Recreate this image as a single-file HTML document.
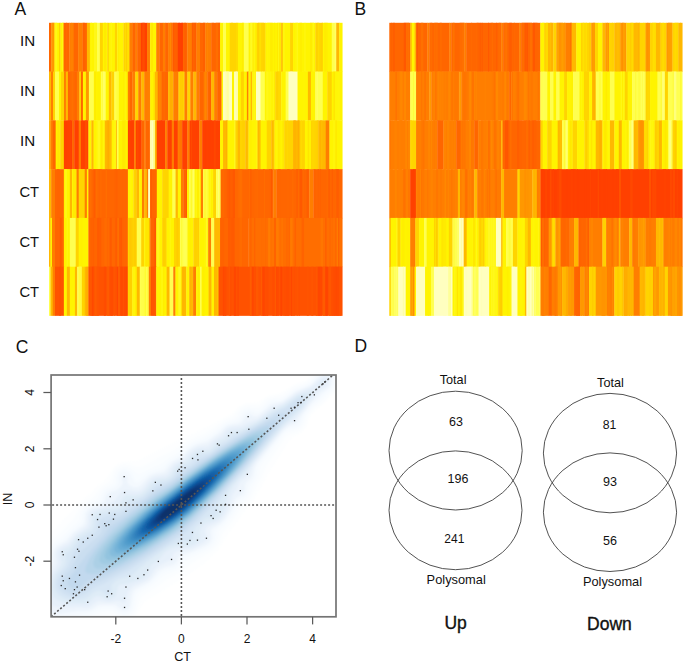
<!DOCTYPE html>
<html><head><meta charset="utf-8"><title>Figure</title>
<style>html,body{margin:0;padding:0;background:#fff;} svg{display:block;}</style>
</head><body>
<svg width="685" height="664" viewBox="0 0 685 664">
<defs>
 <clipPath id="fclip"><rect x="51.1" y="375.0" width="284.9" height="241.79999999999995"/></clipPath>
 <filter id="dblur" x="-10%" y="-10%" width="120%" height="120%"><feGaussianBlur stdDeviation="0.8"/></filter>
</defs>
<rect width="685" height="664" fill="#fff"/>
<g>
<rect x="49.00" y="22.80" width="2.64" height="49.13" fill="#ff6600"/>
<rect x="51.29" y="22.80" width="3.44" height="49.13" fill="#ff9800"/>
<rect x="52.00" y="22.80" width="1.00" height="49.13" fill="#ff9800"/>
<rect x="53.00" y="22.80" width="1.39" height="49.13" fill="#ff9500"/>
<rect x="54.39" y="22.80" width="4.94" height="49.13" fill="#fff400"/>
<rect x="55.20" y="22.80" width="2.00" height="49.13" fill="#fff718"/>
<rect x="58.97" y="22.80" width="1.85" height="49.13" fill="#ffd400"/>
<rect x="60.47" y="22.80" width="3.44" height="49.13" fill="#fff400"/>
<rect x="62.12" y="22.80" width="1.44" height="49.13" fill="#fff716"/>
<rect x="63.56" y="22.80" width="6.13" height="49.13" fill="#ff6600"/>
<rect x="65.95" y="22.80" width="1.00" height="49.13" fill="#ff6a00"/>
<rect x="69.34" y="22.80" width="4.74" height="49.13" fill="#ff7e00"/>
<rect x="71.30" y="22.80" width="1.00" height="49.13" fill="#ff8400"/>
<rect x="73.73" y="22.80" width="4.74" height="49.13" fill="#ff6600"/>
<rect x="78.12" y="22.80" width="4.74" height="49.13" fill="#ff7e00"/>
<rect x="82.51" y="22.80" width="4.74" height="49.13" fill="#ff6600"/>
<rect x="83.16" y="22.80" width="1.50" height="49.13" fill="#ff6100"/>
<rect x="86.90" y="22.80" width="3.34" height="49.13" fill="#ffb800"/>
<rect x="89.89" y="22.80" width="7.33" height="49.13" fill="#fff400"/>
<rect x="91.02" y="22.80" width="1.00" height="49.13" fill="#fff506"/>
<rect x="94.02" y="22.80" width="2.50" height="49.13" fill="#fff719"/>
<rect x="96.87" y="22.80" width="3.34" height="49.13" fill="#ffff50"/>
<rect x="99.86" y="22.80" width="3.34" height="49.13" fill="#ffd400"/>
<rect x="102.85" y="22.80" width="4.74" height="49.13" fill="#fff400"/>
<rect x="104.07" y="22.80" width="2.00" height="49.13" fill="#ffeb00"/>
<rect x="107.24" y="22.80" width="1.95" height="49.13" fill="#ffd400"/>
<rect x="108.84" y="22.80" width="6.43" height="49.13" fill="#fff400"/>
<rect x="110.50" y="22.80" width="1.50" height="49.13" fill="#fff60c"/>
<rect x="114.92" y="22.80" width="2.64" height="49.13" fill="#ffd400"/>
<rect x="117.21" y="22.80" width="6.53" height="49.13" fill="#fff400"/>
<rect x="118.27" y="22.80" width="1.00" height="49.13" fill="#ffee00"/>
<rect x="123.40" y="22.80" width="6.43" height="49.13" fill="#ffd400"/>
<rect x="125.15" y="22.80" width="1.00" height="49.13" fill="#ffde00"/>
<rect x="126.15" y="22.80" width="1.00" height="49.13" fill="#ffd000"/>
<rect x="127.15" y="22.80" width="2.33" height="49.13" fill="#ffe000"/>
<rect x="129.48" y="22.80" width="3.44" height="49.13" fill="#ff7e00"/>
<rect x="132.57" y="22.80" width="3.34" height="49.13" fill="#ff6600"/>
<rect x="135.56" y="22.80" width="1.95" height="49.13" fill="#ff7e00"/>
<rect x="137.16" y="22.80" width="4.14" height="49.13" fill="#ff6600"/>
<rect x="140.95" y="22.80" width="6.43" height="49.13" fill="#ff4000"/>
<rect x="142.23" y="22.80" width="2.50" height="49.13" fill="#ff4c00"/>
<rect x="147.03" y="22.80" width="3.44" height="49.13" fill="#ff7e00"/>
<rect x="150.12" y="22.80" width="6.43" height="49.13" fill="#fff400"/>
<rect x="151.24" y="22.80" width="1.50" height="49.13" fill="#ffe600"/>
<rect x="156.21" y="22.80" width="3.44" height="49.13" fill="#ff7e00"/>
<rect x="159.30" y="22.80" width="3.94" height="49.13" fill="#ff6600"/>
<rect x="162.89" y="22.80" width="2.54" height="49.13" fill="#ff7e00"/>
<rect x="165.08" y="22.80" width="3.34" height="49.13" fill="#ff6600"/>
<rect x="168.08" y="22.80" width="4.74" height="49.13" fill="#ff7e00"/>
<rect x="169.85" y="22.80" width="1.50" height="49.13" fill="#ff8800"/>
<rect x="171.35" y="22.80" width="1.00" height="49.13" fill="#ff7000"/>
<rect x="172.46" y="22.80" width="5.54" height="49.13" fill="#ff6600"/>
<rect x="172.98" y="22.80" width="1.50" height="49.13" fill="#ff5a00"/>
<rect x="174.48" y="22.80" width="2.50" height="49.13" fill="#ff6000"/>
<rect x="177.65" y="22.80" width="5.64" height="49.13" fill="#ff4000"/>
<rect x="178.40" y="22.80" width="1.50" height="49.13" fill="#ff4000"/>
<rect x="181.40" y="22.80" width="1.50" height="49.13" fill="#ff4000"/>
<rect x="182.93" y="22.80" width="4.74" height="49.13" fill="#ff6600"/>
<rect x="184.15" y="22.80" width="1.00" height="49.13" fill="#ff6100"/>
<rect x="185.15" y="22.80" width="1.00" height="49.13" fill="#ff5f00"/>
<rect x="187.32" y="22.80" width="4.84" height="49.13" fill="#ff7e00"/>
<rect x="191.81" y="22.80" width="4.84" height="49.13" fill="#ff6600"/>
<rect x="192.34" y="22.80" width="1.00" height="49.13" fill="#ff5800"/>
<rect x="193.34" y="22.80" width="1.00" height="49.13" fill="#ff6600"/>
<rect x="194.34" y="22.80" width="1.96" height="49.13" fill="#ff5e00"/>
<rect x="196.30" y="22.80" width="4.04" height="49.13" fill="#ff7e00"/>
<rect x="198.26" y="22.80" width="1.73" height="49.13" fill="#ff7f00"/>
<rect x="199.99" y="22.80" width="5.54" height="49.13" fill="#ff6600"/>
<rect x="203.03" y="22.80" width="2.00" height="49.13" fill="#ff6000"/>
<rect x="205.17" y="22.80" width="6.33" height="49.13" fill="#ff7e00"/>
<rect x="207.13" y="22.80" width="1.00" height="49.13" fill="#ff8600"/>
<rect x="211.16" y="22.80" width="9.23" height="49.13" fill="#ff6600"/>
<rect x="212.28" y="22.80" width="1.50" height="49.13" fill="#ff6700"/>
<rect x="215.78" y="22.80" width="2.50" height="49.13" fill="#ff6e00"/>
<rect x="218.28" y="22.80" width="1.75" height="49.13" fill="#ff6200"/>
<rect x="220.03" y="22.80" width="3.34" height="49.13" fill="#fff400"/>
<rect x="223.03" y="22.80" width="3.34" height="49.13" fill="#ffff50"/>
<rect x="226.02" y="22.80" width="4.04" height="49.13" fill="#fff400"/>
<rect x="229.71" y="22.80" width="8.53" height="49.13" fill="#ffd400"/>
<rect x="230.95" y="22.80" width="2.00" height="49.13" fill="#ffd400"/>
<rect x="236.45" y="22.80" width="1.00" height="49.13" fill="#ffde00"/>
<rect x="237.88" y="22.80" width="6.33" height="49.13" fill="#fff400"/>
<rect x="242.10" y="22.80" width="1.50" height="49.13" fill="#ffed00"/>
<rect x="243.87" y="22.80" width="4.94" height="49.13" fill="#ffff50"/>
<rect x="248.46" y="22.80" width="8.53" height="49.13" fill="#fff400"/>
<rect x="250.21" y="22.80" width="2.50" height="49.13" fill="#fff923"/>
<rect x="252.71" y="22.80" width="1.00" height="49.13" fill="#ffe700"/>
<rect x="253.71" y="22.80" width="1.00" height="49.13" fill="#fff81e"/>
<rect x="254.71" y="22.80" width="1.00" height="49.13" fill="#ffef00"/>
<rect x="256.63" y="22.80" width="9.23" height="49.13" fill="#ffd400"/>
<rect x="257.89" y="22.80" width="1.50" height="49.13" fill="#ffd000"/>
<rect x="259.39" y="22.80" width="1.50" height="49.13" fill="#ffe100"/>
<rect x="260.89" y="22.80" width="2.00" height="49.13" fill="#ffd500"/>
<rect x="262.89" y="22.80" width="1.00" height="49.13" fill="#ffd200"/>
<rect x="265.51" y="22.80" width="16.01" height="49.13" fill="#fff400"/>
<rect x="267.19" y="22.80" width="1.00" height="49.13" fill="#fff508"/>
<rect x="268.19" y="22.80" width="2.00" height="49.13" fill="#fff404"/>
<rect x="270.19" y="22.80" width="2.50" height="49.13" fill="#ffed00"/>
<rect x="274.19" y="22.80" width="1.00" height="49.13" fill="#ffee00"/>
<rect x="277.19" y="22.80" width="1.00" height="49.13" fill="#ffe900"/>
<rect x="278.19" y="22.80" width="1.00" height="49.13" fill="#fff715"/>
<rect x="279.19" y="22.80" width="1.98" height="49.13" fill="#ffe900"/>
<rect x="281.17" y="22.80" width="1.85" height="49.13" fill="#ffb800"/>
<rect x="282.66" y="22.80" width="7.73" height="49.13" fill="#fff400"/>
<rect x="283.41" y="22.80" width="1.00" height="49.13" fill="#fff719"/>
<rect x="290.04" y="22.80" width="3.34" height="49.13" fill="#ffd400"/>
<rect x="293.03" y="22.80" width="22.59" height="49.13" fill="#fff400"/>
<rect x="295.48" y="22.80" width="1.50" height="49.13" fill="#fff60b"/>
<rect x="296.98" y="22.80" width="1.00" height="49.13" fill="#fff715"/>
<rect x="299.48" y="22.80" width="1.50" height="49.13" fill="#ffef00"/>
<rect x="300.98" y="22.80" width="1.00" height="49.13" fill="#ffef00"/>
<rect x="304.48" y="22.80" width="1.00" height="49.13" fill="#fff715"/>
<rect x="309.98" y="22.80" width="1.50" height="49.13" fill="#ffec00"/>
<rect x="311.48" y="22.80" width="1.00" height="49.13" fill="#ffe800"/>
<rect x="312.48" y="22.80" width="1.50" height="49.13" fill="#fff712"/>
<rect x="315.27" y="22.80" width="7.83" height="49.13" fill="#ffd400"/>
<rect x="316.74" y="22.80" width="1.00" height="49.13" fill="#ffcf00"/>
<rect x="317.74" y="22.80" width="1.50" height="49.13" fill="#ffdc00"/>
<rect x="321.74" y="22.80" width="1.01" height="49.13" fill="#ffca00"/>
<rect x="322.75" y="22.80" width="9.33" height="49.13" fill="#fff400"/>
<rect x="324.17" y="22.80" width="2.50" height="49.13" fill="#ffec00"/>
<rect x="326.67" y="22.80" width="1.00" height="49.13" fill="#ffed00"/>
<rect x="331.73" y="22.80" width="4.84" height="49.13" fill="#ffff50"/>
<rect x="334.77" y="22.80" width="1.00" height="49.13" fill="#ffff6c"/>
<rect x="336.22" y="22.80" width="3.34" height="49.13" fill="#ffb800"/>
<rect x="339.21" y="22.80" width="3.34" height="49.13" fill="#fff400"/>
<rect x="49.00" y="71.58" width="2.34" height="49.13" fill="#ffb800"/>
<rect x="50.99" y="71.58" width="2.34" height="49.13" fill="#ff7e00"/>
<rect x="52.99" y="71.58" width="2.34" height="49.13" fill="#ffd400"/>
<rect x="54.98" y="71.58" width="4.34" height="49.13" fill="#ffff50"/>
<rect x="58.97" y="71.58" width="2.34" height="49.13" fill="#fff400"/>
<rect x="60.97" y="71.58" width="3.34" height="49.13" fill="#ffd400"/>
<rect x="63.96" y="71.58" width="2.34" height="49.13" fill="#ff7e00"/>
<rect x="65.95" y="71.58" width="2.34" height="49.13" fill="#ffb800"/>
<rect x="67.95" y="71.58" width="9.33" height="49.13" fill="#ff6600"/>
<rect x="69.71" y="71.58" width="1.50" height="49.13" fill="#ff6b00"/>
<rect x="71.21" y="71.58" width="2.50" height="49.13" fill="#ff7000"/>
<rect x="73.71" y="71.58" width="1.00" height="49.13" fill="#ff6b00"/>
<rect x="76.92" y="71.58" width="2.84" height="49.13" fill="#ff7e00"/>
<rect x="79.42" y="71.58" width="1.85" height="49.13" fill="#ffd400"/>
<rect x="80.91" y="71.58" width="2.34" height="49.13" fill="#ff6600"/>
<rect x="82.91" y="71.58" width="3.34" height="49.13" fill="#fff400"/>
<rect x="85.90" y="71.58" width="3.34" height="49.13" fill="#ff9800"/>
<rect x="88.89" y="71.58" width="5.34" height="49.13" fill="#ffff50"/>
<rect x="92.83" y="71.58" width="1.00" height="49.13" fill="#fffe4b"/>
<rect x="93.88" y="71.58" width="7.33" height="49.13" fill="#fff400"/>
<rect x="94.61" y="71.58" width="1.00" height="49.13" fill="#ffe700"/>
<rect x="97.61" y="71.58" width="2.50" height="49.13" fill="#fff200"/>
<rect x="100.86" y="71.58" width="5.34" height="49.13" fill="#ffff50"/>
<rect x="102.17" y="71.58" width="1.00" height="49.13" fill="#fffd44"/>
<rect x="103.17" y="71.58" width="1.50" height="49.13" fill="#ffff6e"/>
<rect x="105.84" y="71.58" width="3.34" height="49.13" fill="#fff400"/>
<rect x="108.84" y="71.58" width="2.84" height="49.13" fill="#ffb800"/>
<rect x="111.33" y="71.58" width="3.34" height="49.13" fill="#ffd400"/>
<rect x="114.32" y="71.58" width="4.84" height="49.13" fill="#ffff50"/>
<rect x="116.35" y="71.58" width="2.46" height="49.13" fill="#fffd3f"/>
<rect x="118.81" y="71.58" width="9.33" height="49.13" fill="#fff400"/>
<rect x="123.55" y="71.58" width="1.00" height="49.13" fill="#ffeb00"/>
<rect x="124.55" y="71.58" width="1.50" height="49.13" fill="#fff50b"/>
<rect x="127.79" y="71.58" width="2.34" height="49.13" fill="#ff7e00"/>
<rect x="129.78" y="71.58" width="2.84" height="49.13" fill="#ff6600"/>
<rect x="132.27" y="71.58" width="3.34" height="49.13" fill="#ff7e00"/>
<rect x="135.26" y="71.58" width="3.34" height="49.13" fill="#ffd400"/>
<rect x="138.26" y="71.58" width="3.34" height="49.13" fill="#ff7e00"/>
<rect x="141.25" y="71.58" width="3.34" height="49.13" fill="#ffb800"/>
<rect x="144.24" y="71.58" width="6.23" height="49.13" fill="#ff7e00"/>
<rect x="145.70" y="71.58" width="1.00" height="49.13" fill="#ff7e00"/>
<rect x="148.70" y="71.58" width="1.43" height="49.13" fill="#ff8100"/>
<rect x="150.12" y="71.58" width="4.94" height="49.13" fill="#fff400"/>
<rect x="153.22" y="71.58" width="1.00" height="49.13" fill="#ffe800"/>
<rect x="154.71" y="71.58" width="3.34" height="49.13" fill="#ffb800"/>
<rect x="157.70" y="71.58" width="4.24" height="49.13" fill="#ff7e00"/>
<rect x="158.97" y="71.58" width="1.50" height="49.13" fill="#ff8400"/>
<rect x="160.47" y="71.58" width="1.00" height="49.13" fill="#ff8300"/>
<rect x="161.59" y="71.58" width="6.83" height="49.13" fill="#ff6600"/>
<rect x="163.37" y="71.58" width="1.50" height="49.13" fill="#ff6b00"/>
<rect x="168.08" y="71.58" width="5.54" height="49.13" fill="#ffb800"/>
<rect x="170.02" y="71.58" width="2.50" height="49.13" fill="#ffae00"/>
<rect x="173.26" y="71.58" width="5.54" height="49.13" fill="#ff7e00"/>
<rect x="176.90" y="71.58" width="1.00" height="49.13" fill="#ff7b00"/>
<rect x="178.45" y="71.58" width="6.33" height="49.13" fill="#ffd400"/>
<rect x="179.90" y="71.58" width="2.00" height="49.13" fill="#ffcc00"/>
<rect x="181.90" y="71.58" width="1.00" height="49.13" fill="#ffca00"/>
<rect x="184.43" y="71.58" width="3.24" height="49.13" fill="#ff7e00"/>
<rect x="187.32" y="71.58" width="3.34" height="49.13" fill="#ffd400"/>
<rect x="190.31" y="71.58" width="3.34" height="49.13" fill="#ff7e00"/>
<rect x="193.31" y="71.58" width="3.34" height="49.13" fill="#ffb800"/>
<rect x="196.30" y="71.58" width="3.34" height="49.13" fill="#ff7e00"/>
<rect x="199.29" y="71.58" width="4.74" height="49.13" fill="#ff6600"/>
<rect x="203.68" y="71.58" width="4.14" height="49.13" fill="#ff7e00"/>
<rect x="205.17" y="71.58" width="1.00" height="49.13" fill="#ff8800"/>
<rect x="207.47" y="71.58" width="4.04" height="49.13" fill="#ff6600"/>
<rect x="209.32" y="71.58" width="1.83" height="49.13" fill="#ff6100"/>
<rect x="211.16" y="71.58" width="3.34" height="49.13" fill="#ffb800"/>
<rect x="214.15" y="71.58" width="3.34" height="49.13" fill="#ff7e00"/>
<rect x="217.14" y="71.58" width="4.74" height="49.13" fill="#ff6600"/>
<rect x="219.83" y="71.58" width="1.00" height="49.13" fill="#ff6700"/>
<rect x="221.53" y="71.58" width="1.85" height="49.13" fill="#fff400"/>
<rect x="223.03" y="71.58" width="9.33" height="49.13" fill="#ffffc0"/>
<rect x="224.89" y="71.58" width="1.50" height="49.13" fill="#ffffb4"/>
<rect x="226.39" y="71.58" width="2.50" height="49.13" fill="#ffffa1"/>
<rect x="232.00" y="71.58" width="2.54" height="49.13" fill="#fff400"/>
<rect x="234.19" y="71.58" width="4.04" height="49.13" fill="#ffffc0"/>
<rect x="235.60" y="71.58" width="1.50" height="49.13" fill="#ffffaa"/>
<rect x="237.88" y="71.58" width="3.34" height="49.13" fill="#fff400"/>
<rect x="240.88" y="71.58" width="3.34" height="49.13" fill="#ffd400"/>
<rect x="243.87" y="71.58" width="3.34" height="49.13" fill="#fff400"/>
<rect x="246.86" y="71.58" width="1.95" height="49.13" fill="#ff7e00"/>
<rect x="248.46" y="71.58" width="2.54" height="49.13" fill="#fff400"/>
<rect x="250.65" y="71.58" width="1.85" height="49.13" fill="#ffb800"/>
<rect x="252.15" y="71.58" width="4.14" height="49.13" fill="#fff400"/>
<rect x="253.46" y="71.58" width="1.50" height="49.13" fill="#fff713"/>
<rect x="255.94" y="71.58" width="4.84" height="49.13" fill="#ffffc0"/>
<rect x="260.42" y="71.58" width="4.74" height="49.13" fill="#ffff50"/>
<rect x="262.14" y="71.58" width="1.00" height="49.13" fill="#ffff4f"/>
<rect x="264.81" y="71.58" width="10.72" height="49.13" fill="#fff400"/>
<rect x="266.17" y="71.58" width="2.00" height="49.13" fill="#fff716"/>
<rect x="268.17" y="71.58" width="1.00" height="49.13" fill="#fff612"/>
<rect x="269.17" y="71.58" width="2.50" height="49.13" fill="#fff60d"/>
<rect x="271.67" y="71.58" width="1.00" height="49.13" fill="#fff000"/>
<rect x="272.67" y="71.58" width="1.50" height="49.13" fill="#fff60d"/>
<rect x="274.17" y="71.58" width="1.02" height="49.13" fill="#ffe900"/>
<rect x="275.18" y="71.58" width="6.33" height="49.13" fill="#ffd400"/>
<rect x="276.76" y="71.58" width="1.50" height="49.13" fill="#ffd100"/>
<rect x="278.26" y="71.58" width="2.50" height="49.13" fill="#ffd800"/>
<rect x="281.17" y="71.58" width="4.84" height="49.13" fill="#fff400"/>
<rect x="285.65" y="71.58" width="3.24" height="49.13" fill="#ffff50"/>
<rect x="288.55" y="71.58" width="9.33" height="49.13" fill="#ffffc0"/>
<rect x="290.13" y="71.58" width="2.50" height="49.13" fill="#ffffc0"/>
<rect x="297.52" y="71.58" width="10.72" height="49.13" fill="#fff400"/>
<rect x="302.59" y="71.58" width="2.50" height="49.13" fill="#fff402"/>
<rect x="307.89" y="71.58" width="3.34" height="49.13" fill="#ffb800"/>
<rect x="310.89" y="71.58" width="4.74" height="49.13" fill="#fff400"/>
<rect x="315.27" y="71.58" width="7.83" height="49.13" fill="#ffff50"/>
<rect x="316.65" y="71.58" width="1.00" height="49.13" fill="#ffff69"/>
<rect x="322.75" y="71.58" width="4.84" height="49.13" fill="#fff400"/>
<rect x="327.24" y="71.58" width="4.84" height="49.13" fill="#ffd400"/>
<rect x="331.73" y="71.58" width="10.82" height="49.13" fill="#fff400"/>
<rect x="333.04" y="71.58" width="1.00" height="49.13" fill="#ffed00"/>
<rect x="334.04" y="71.58" width="1.00" height="49.13" fill="#ffe700"/>
<rect x="335.04" y="71.58" width="2.50" height="49.13" fill="#fff507"/>
<rect x="337.54" y="71.58" width="1.00" height="49.13" fill="#fff60b"/>
<rect x="338.54" y="71.58" width="1.00" height="49.13" fill="#fff60f"/>
<rect x="49.00" y="120.37" width="1.85" height="49.13" fill="#ffb800"/>
<rect x="50.50" y="120.37" width="2.54" height="49.13" fill="#ff7e00"/>
<rect x="52.69" y="120.37" width="3.34" height="49.13" fill="#ff6600"/>
<rect x="55.68" y="120.37" width="4.84" height="49.13" fill="#fff400"/>
<rect x="56.60" y="120.37" width="1.50" height="49.13" fill="#ffec00"/>
<rect x="58.10" y="120.37" width="1.50" height="49.13" fill="#ffe800"/>
<rect x="60.17" y="120.37" width="4.04" height="49.13" fill="#ffd400"/>
<rect x="63.86" y="120.37" width="8.53" height="49.13" fill="#ff4000"/>
<rect x="67.56" y="120.37" width="1.00" height="49.13" fill="#ff4600"/>
<rect x="68.56" y="120.37" width="2.50" height="49.13" fill="#ff4300"/>
<rect x="72.04" y="120.37" width="2.54" height="49.13" fill="#ff6600"/>
<rect x="74.23" y="120.37" width="4.84" height="49.13" fill="#ff4000"/>
<rect x="75.08" y="120.37" width="2.50" height="49.13" fill="#ff4000"/>
<rect x="78.72" y="120.37" width="2.54" height="49.13" fill="#ff7e00"/>
<rect x="80.91" y="120.37" width="7.83" height="49.13" fill="#ff4000"/>
<rect x="81.91" y="120.37" width="1.00" height="49.13" fill="#ff4300"/>
<rect x="84.91" y="120.37" width="2.50" height="49.13" fill="#ff4c00"/>
<rect x="88.39" y="120.37" width="3.34" height="49.13" fill="#fff400"/>
<rect x="91.38" y="120.37" width="2.54" height="49.13" fill="#ffb800"/>
<rect x="93.58" y="120.37" width="11.52" height="49.13" fill="#fff400"/>
<rect x="96.48" y="120.37" width="1.00" height="49.13" fill="#fff611"/>
<rect x="97.48" y="120.37" width="2.50" height="49.13" fill="#fff81e"/>
<rect x="100.98" y="120.37" width="1.50" height="49.13" fill="#ffea00"/>
<rect x="103.48" y="120.37" width="1.27" height="49.13" fill="#fff612"/>
<rect x="104.75" y="120.37" width="7.23" height="49.13" fill="#ffb800"/>
<rect x="106.61" y="120.37" width="1.50" height="49.13" fill="#ffb000"/>
<rect x="108.11" y="120.37" width="1.50" height="49.13" fill="#ffac00"/>
<rect x="109.61" y="120.37" width="1.00" height="49.13" fill="#ffc000"/>
<rect x="111.63" y="120.37" width="4.84" height="49.13" fill="#fff400"/>
<rect x="112.45" y="120.37" width="1.00" height="49.13" fill="#fff402"/>
<rect x="113.45" y="120.37" width="2.50" height="49.13" fill="#fff60c"/>
<rect x="116.12" y="120.37" width="1.25" height="49.13" fill="#ffb800"/>
<rect x="117.01" y="120.37" width="1.75" height="49.13" fill="#ffff50"/>
<rect x="118.41" y="120.37" width="9.82" height="49.13" fill="#fff400"/>
<rect x="121.82" y="120.37" width="1.00" height="49.13" fill="#ffec00"/>
<rect x="122.82" y="120.37" width="2.00" height="49.13" fill="#ffea00"/>
<rect x="124.82" y="120.37" width="1.00" height="49.13" fill="#ffee00"/>
<rect x="127.88" y="120.37" width="6.63" height="49.13" fill="#ff4000"/>
<rect x="128.70" y="120.37" width="1.50" height="49.13" fill="#ff4300"/>
<rect x="131.20" y="120.37" width="1.00" height="49.13" fill="#ff4000"/>
<rect x="132.20" y="120.37" width="1.96" height="49.13" fill="#ff4000"/>
<rect x="134.17" y="120.37" width="2.15" height="49.13" fill="#ff7e00"/>
<rect x="135.96" y="120.37" width="5.74" height="49.13" fill="#ff4000"/>
<rect x="137.33" y="120.37" width="1.00" height="49.13" fill="#ff4a00"/>
<rect x="139.33" y="120.37" width="1.00" height="49.13" fill="#ff4000"/>
<rect x="140.33" y="120.37" width="1.01" height="49.13" fill="#ff4000"/>
<rect x="141.35" y="120.37" width="3.14" height="49.13" fill="#ff6600"/>
<rect x="144.14" y="120.37" width="1.65" height="49.13" fill="#ff7e00"/>
<rect x="145.44" y="120.37" width="4.84" height="49.13" fill="#ff6600"/>
<rect x="149.92" y="120.37" width="5.34" height="49.13" fill="#ffffc0"/>
<rect x="150.48" y="120.37" width="1.00" height="49.13" fill="#ffff9b"/>
<rect x="152.98" y="120.37" width="1.93" height="49.13" fill="#ffff90"/>
<rect x="154.91" y="120.37" width="2.15" height="49.13" fill="#ffb800"/>
<rect x="156.71" y="120.37" width="8.73" height="49.13" fill="#ff4000"/>
<rect x="160.66" y="120.37" width="2.00" height="49.13" fill="#ff4000"/>
<rect x="165.08" y="120.37" width="2.54" height="49.13" fill="#ff7e00"/>
<rect x="167.28" y="120.37" width="4.84" height="49.13" fill="#ff4000"/>
<rect x="169.14" y="120.37" width="2.50" height="49.13" fill="#ff4000"/>
<rect x="171.77" y="120.37" width="2.54" height="49.13" fill="#ff7e00"/>
<rect x="173.96" y="120.37" width="4.04" height="49.13" fill="#ff4000"/>
<rect x="177.65" y="120.37" width="4.84" height="49.13" fill="#ff7e00"/>
<rect x="179.51" y="120.37" width="2.50" height="49.13" fill="#ff7500"/>
<rect x="182.14" y="120.37" width="5.54" height="49.13" fill="#ff4000"/>
<rect x="187.32" y="120.37" width="2.64" height="49.13" fill="#ff7e00"/>
<rect x="189.62" y="120.37" width="10.02" height="49.13" fill="#ff4000"/>
<rect x="191.23" y="120.37" width="1.00" height="49.13" fill="#ff4d00"/>
<rect x="192.23" y="120.37" width="1.00" height="49.13" fill="#ff4000"/>
<rect x="196.23" y="120.37" width="2.50" height="49.13" fill="#ff4000"/>
<rect x="199.29" y="120.37" width="3.24" height="49.13" fill="#ff7e00"/>
<rect x="202.18" y="120.37" width="18.20" height="49.13" fill="#ff4000"/>
<rect x="204.16" y="120.37" width="1.00" height="49.13" fill="#ff4000"/>
<rect x="206.16" y="120.37" width="2.00" height="49.13" fill="#ff4100"/>
<rect x="208.16" y="120.37" width="1.00" height="49.13" fill="#ff4000"/>
<rect x="209.16" y="120.37" width="1.50" height="49.13" fill="#ff4000"/>
<rect x="210.66" y="120.37" width="1.50" height="49.13" fill="#ff4000"/>
<rect x="214.16" y="120.37" width="1.50" height="49.13" fill="#ff4900"/>
<rect x="220.03" y="120.37" width="3.34" height="49.13" fill="#fff400"/>
<rect x="223.03" y="120.37" width="4.84" height="49.13" fill="#ffb800"/>
<rect x="226.29" y="120.37" width="1.22" height="49.13" fill="#ffad00"/>
<rect x="227.51" y="120.37" width="8.23" height="49.13" fill="#fff400"/>
<rect x="234.23" y="120.37" width="1.16" height="49.13" fill="#fff923"/>
<rect x="235.39" y="120.37" width="2.64" height="49.13" fill="#ffd400"/>
<rect x="237.69" y="120.37" width="2.64" height="49.13" fill="#ffb800"/>
<rect x="239.98" y="120.37" width="5.74" height="49.13" fill="#ffd400"/>
<rect x="241.97" y="120.37" width="1.00" height="49.13" fill="#ffd100"/>
<rect x="242.97" y="120.37" width="1.50" height="49.13" fill="#ffd000"/>
<rect x="245.36" y="120.37" width="3.44" height="49.13" fill="#ffb800"/>
<rect x="246.73" y="120.37" width="1.00" height="49.13" fill="#ffc000"/>
<rect x="248.46" y="120.37" width="9.43" height="49.13" fill="#fff400"/>
<rect x="249.76" y="120.37" width="2.00" height="49.13" fill="#fff000"/>
<rect x="253.26" y="120.37" width="2.50" height="49.13" fill="#fff402"/>
<rect x="255.76" y="120.37" width="1.00" height="49.13" fill="#fff610"/>
<rect x="257.53" y="120.37" width="3.44" height="49.13" fill="#ffb800"/>
<rect x="259.21" y="120.37" width="1.41" height="49.13" fill="#ffc400"/>
<rect x="260.62" y="120.37" width="6.43" height="49.13" fill="#fff400"/>
<rect x="266.71" y="120.37" width="4.94" height="49.13" fill="#ffd400"/>
<rect x="268.41" y="120.37" width="1.00" height="49.13" fill="#ffd400"/>
<rect x="271.29" y="120.37" width="3.44" height="49.13" fill="#ffb800"/>
<rect x="272.85" y="120.37" width="1.50" height="49.13" fill="#ffc300"/>
<rect x="274.39" y="120.37" width="10.12" height="49.13" fill="#fff400"/>
<rect x="275.85" y="120.37" width="2.00" height="49.13" fill="#fff507"/>
<rect x="277.85" y="120.37" width="1.50" height="49.13" fill="#ffea00"/>
<rect x="279.35" y="120.37" width="1.00" height="49.13" fill="#ffec00"/>
<rect x="282.35" y="120.37" width="1.81" height="49.13" fill="#ffe800"/>
<rect x="284.16" y="120.37" width="9.23" height="49.13" fill="#ffd400"/>
<rect x="286.98" y="120.37" width="1.00" height="49.13" fill="#ffd800"/>
<rect x="293.03" y="120.37" width="7.03" height="49.13" fill="#ffb800"/>
<rect x="293.79" y="120.37" width="2.00" height="49.13" fill="#ffb400"/>
<rect x="297.79" y="120.37" width="1.50" height="49.13" fill="#ffaf00"/>
<rect x="299.72" y="120.37" width="5.54" height="49.13" fill="#ffd400"/>
<rect x="300.96" y="120.37" width="1.00" height="49.13" fill="#ffd900"/>
<rect x="304.90" y="120.37" width="6.33" height="49.13" fill="#fff400"/>
<rect x="307.69" y="120.37" width="1.50" height="49.13" fill="#ffe600"/>
<rect x="310.89" y="120.37" width="7.73" height="49.13" fill="#ffd400"/>
<rect x="312.16" y="120.37" width="2.00" height="49.13" fill="#ffd700"/>
<rect x="316.66" y="120.37" width="1.61" height="49.13" fill="#ffd000"/>
<rect x="318.27" y="120.37" width="7.83" height="49.13" fill="#ffb800"/>
<rect x="320.25" y="120.37" width="1.00" height="49.13" fill="#ffb200"/>
<rect x="321.25" y="120.37" width="1.00" height="49.13" fill="#ffc000"/>
<rect x="325.74" y="120.37" width="4.04" height="49.13" fill="#ff7e00"/>
<rect x="329.43" y="120.37" width="13.12" height="49.13" fill="#fff400"/>
<rect x="331.43" y="120.37" width="1.50" height="49.13" fill="#fff403"/>
<rect x="332.93" y="120.37" width="2.50" height="49.13" fill="#fff509"/>
<rect x="335.43" y="120.37" width="1.50" height="49.13" fill="#ffe900"/>
<rect x="49.00" y="169.15" width="2.54" height="49.13" fill="#ffb800"/>
<rect x="51.19" y="169.15" width="4.14" height="49.13" fill="#ff7e00"/>
<rect x="54.98" y="169.15" width="9.23" height="49.13" fill="#ff6600"/>
<rect x="56.98" y="169.15" width="2.50" height="49.13" fill="#ff6400"/>
<rect x="63.86" y="169.15" width="6.33" height="49.13" fill="#fff400"/>
<rect x="64.93" y="169.15" width="2.00" height="49.13" fill="#fff714"/>
<rect x="69.84" y="169.15" width="2.54" height="49.13" fill="#ffb800"/>
<rect x="72.04" y="169.15" width="4.84" height="49.13" fill="#fff400"/>
<rect x="73.12" y="169.15" width="1.00" height="49.13" fill="#ffea00"/>
<rect x="74.12" y="169.15" width="1.00" height="49.13" fill="#ffeb00"/>
<rect x="75.12" y="169.15" width="1.41" height="49.13" fill="#ffe900"/>
<rect x="76.52" y="169.15" width="2.54" height="49.13" fill="#ff7e00"/>
<rect x="78.72" y="169.15" width="6.33" height="49.13" fill="#ffd400"/>
<rect x="80.40" y="169.15" width="2.00" height="49.13" fill="#ffd400"/>
<rect x="84.70" y="169.15" width="2.54" height="49.13" fill="#ff7e00"/>
<rect x="86.90" y="169.15" width="1.85" height="49.13" fill="#fff400"/>
<rect x="88.39" y="169.15" width="39.84" height="49.13" fill="#ff6600"/>
<rect x="89.54" y="169.15" width="2.00" height="49.13" fill="#ff6e00"/>
<rect x="93.54" y="169.15" width="1.00" height="49.13" fill="#ff5d00"/>
<rect x="94.54" y="169.15" width="1.00" height="49.13" fill="#ff5800"/>
<rect x="95.54" y="169.15" width="1.50" height="49.13" fill="#ff6d00"/>
<rect x="97.04" y="169.15" width="1.00" height="49.13" fill="#ff6b00"/>
<rect x="98.04" y="169.15" width="1.00" height="49.13" fill="#ff6900"/>
<rect x="99.04" y="169.15" width="1.00" height="49.13" fill="#ff6700"/>
<rect x="100.04" y="169.15" width="1.50" height="49.13" fill="#ff6a00"/>
<rect x="105.54" y="169.15" width="1.50" height="49.13" fill="#ff6d00"/>
<rect x="114.54" y="169.15" width="2.00" height="49.13" fill="#ff6300"/>
<rect x="116.54" y="169.15" width="1.00" height="49.13" fill="#ff5f00"/>
<rect x="117.54" y="169.15" width="2.50" height="49.13" fill="#ff6600"/>
<rect x="122.54" y="169.15" width="2.50" height="49.13" fill="#ff6600"/>
<rect x="127.88" y="169.15" width="5.84" height="49.13" fill="#fff400"/>
<rect x="129.84" y="169.15" width="1.50" height="49.13" fill="#fff509"/>
<rect x="133.37" y="169.15" width="3.44" height="49.13" fill="#ffd400"/>
<rect x="135.13" y="169.15" width="1.00" height="49.13" fill="#ffce00"/>
<rect x="136.46" y="169.15" width="3.04" height="49.13" fill="#ffb800"/>
<rect x="139.15" y="169.15" width="3.14" height="49.13" fill="#fff400"/>
<rect x="141.95" y="169.15" width="2.54" height="49.13" fill="#ff7e00"/>
<rect x="144.14" y="169.15" width="3.04" height="49.13" fill="#ffb800"/>
<rect x="146.83" y="169.15" width="1.75" height="49.13" fill="#ff7e00"/>
<rect x="148.23" y="169.15" width="2.15" height="49.13" fill="#ffffc0"/>
<rect x="150.02" y="169.15" width="7.13" height="49.13" fill="#ff6600"/>
<rect x="150.89" y="169.15" width="1.00" height="49.13" fill="#ff5d00"/>
<rect x="154.39" y="169.15" width="1.00" height="49.13" fill="#ff6900"/>
<rect x="156.81" y="169.15" width="5.74" height="49.13" fill="#fff400"/>
<rect x="159.71" y="169.15" width="1.50" height="49.13" fill="#fff400"/>
<rect x="162.19" y="169.15" width="6.83" height="49.13" fill="#ffd400"/>
<rect x="163.59" y="169.15" width="1.00" height="49.13" fill="#ffd700"/>
<rect x="168.67" y="169.15" width="4.14" height="49.13" fill="#fff400"/>
<rect x="169.98" y="169.15" width="1.00" height="49.13" fill="#fff402"/>
<rect x="172.46" y="169.15" width="3.44" height="49.13" fill="#ffff50"/>
<rect x="174.18" y="169.15" width="1.00" height="49.13" fill="#ffff50"/>
<rect x="175.55" y="169.15" width="2.64" height="49.13" fill="#ffb800"/>
<rect x="177.85" y="169.15" width="3.44" height="49.13" fill="#fff400"/>
<rect x="179.84" y="169.15" width="1.10" height="49.13" fill="#fff50a"/>
<rect x="180.94" y="169.15" width="2.64" height="49.13" fill="#ff7e00"/>
<rect x="183.23" y="169.15" width="4.14" height="49.13" fill="#ff6600"/>
<rect x="185.98" y="169.15" width="1.00" height="49.13" fill="#ff5d00"/>
<rect x="187.02" y="169.15" width="2.64" height="49.13" fill="#fff400"/>
<rect x="189.32" y="169.15" width="5.64" height="49.13" fill="#ffff50"/>
<rect x="190.67" y="169.15" width="1.50" height="49.13" fill="#fffa2c"/>
<rect x="193.17" y="169.15" width="1.43" height="49.13" fill="#ffff68"/>
<rect x="194.60" y="169.15" width="6.53" height="49.13" fill="#fff400"/>
<rect x="195.52" y="169.15" width="1.50" height="49.13" fill="#fff610"/>
<rect x="197.02" y="169.15" width="2.00" height="49.13" fill="#ffef00"/>
<rect x="199.02" y="169.15" width="1.00" height="49.13" fill="#fff81d"/>
<rect x="200.79" y="169.15" width="2.64" height="49.13" fill="#ff7e00"/>
<rect x="203.08" y="169.15" width="5.74" height="49.13" fill="#ffff50"/>
<rect x="203.79" y="169.15" width="2.50" height="49.13" fill="#fffb32"/>
<rect x="206.29" y="169.15" width="1.00" height="49.13" fill="#fffd3e"/>
<rect x="207.29" y="169.15" width="1.17" height="49.13" fill="#fffa2e"/>
<rect x="208.46" y="169.15" width="4.94" height="49.13" fill="#fff400"/>
<rect x="209.17" y="169.15" width="2.00" height="49.13" fill="#fff610"/>
<rect x="211.17" y="169.15" width="1.00" height="49.13" fill="#ffef00"/>
<rect x="213.05" y="169.15" width="3.34" height="49.13" fill="#ffd400"/>
<rect x="216.04" y="169.15" width="4.94" height="49.13" fill="#ffff50"/>
<rect x="218.06" y="169.15" width="1.00" height="49.13" fill="#ffff6f"/>
<rect x="220.63" y="169.15" width="53.11" height="49.13" fill="#ff6600"/>
<rect x="222.44" y="169.15" width="2.00" height="49.13" fill="#ff6800"/>
<rect x="224.44" y="169.15" width="2.50" height="49.13" fill="#ff6400"/>
<rect x="226.94" y="169.15" width="2.00" height="49.13" fill="#ff5e00"/>
<rect x="228.94" y="169.15" width="1.50" height="49.13" fill="#ff5900"/>
<rect x="230.44" y="169.15" width="2.50" height="49.13" fill="#ff5e00"/>
<rect x="232.94" y="169.15" width="2.00" height="49.13" fill="#ff5800"/>
<rect x="234.94" y="169.15" width="2.50" height="49.13" fill="#ff6700"/>
<rect x="237.44" y="169.15" width="2.00" height="49.13" fill="#ff6b00"/>
<rect x="239.44" y="169.15" width="1.50" height="49.13" fill="#ff7200"/>
<rect x="240.94" y="169.15" width="1.50" height="49.13" fill="#ff6e00"/>
<rect x="247.94" y="169.15" width="1.00" height="49.13" fill="#ff6800"/>
<rect x="248.94" y="169.15" width="1.00" height="49.13" fill="#ff6d00"/>
<rect x="249.94" y="169.15" width="1.50" height="49.13" fill="#ff6000"/>
<rect x="254.44" y="169.15" width="2.00" height="49.13" fill="#ff6800"/>
<rect x="256.44" y="169.15" width="1.50" height="49.13" fill="#ff6a00"/>
<rect x="262.94" y="169.15" width="1.00" height="49.13" fill="#ff6700"/>
<rect x="263.94" y="169.15" width="1.00" height="49.13" fill="#ff6d00"/>
<rect x="268.94" y="169.15" width="2.00" height="49.13" fill="#ff6500"/>
<rect x="270.94" y="169.15" width="1.00" height="49.13" fill="#ff5800"/>
<rect x="273.39" y="169.15" width="3.34" height="49.13" fill="#ff7e00"/>
<rect x="276.38" y="169.15" width="33.26" height="49.13" fill="#ff6600"/>
<rect x="278.13" y="169.15" width="2.50" height="49.13" fill="#ff6600"/>
<rect x="287.13" y="169.15" width="2.50" height="49.13" fill="#ff6700"/>
<rect x="292.13" y="169.15" width="1.50" height="49.13" fill="#ff6b00"/>
<rect x="296.13" y="169.15" width="2.00" height="49.13" fill="#ff6000"/>
<rect x="298.13" y="169.15" width="1.50" height="49.13" fill="#ff6b00"/>
<rect x="299.63" y="169.15" width="2.50" height="49.13" fill="#ff5900"/>
<rect x="303.13" y="169.15" width="1.00" height="49.13" fill="#ff6900"/>
<rect x="306.63" y="169.15" width="1.00" height="49.13" fill="#ff5d00"/>
<rect x="307.63" y="169.15" width="1.00" height="49.13" fill="#ff5e00"/>
<rect x="309.29" y="169.15" width="4.34" height="49.13" fill="#ff7e00"/>
<rect x="313.28" y="169.15" width="29.27" height="49.13" fill="#ff6600"/>
<rect x="314.33" y="169.15" width="1.00" height="49.13" fill="#ff6300"/>
<rect x="317.83" y="169.15" width="1.00" height="49.13" fill="#ff6300"/>
<rect x="319.83" y="169.15" width="1.00" height="49.13" fill="#ff6200"/>
<rect x="326.83" y="169.15" width="1.00" height="49.13" fill="#ff6d00"/>
<rect x="327.83" y="169.15" width="1.00" height="49.13" fill="#ff6300"/>
<rect x="328.83" y="169.15" width="1.00" height="49.13" fill="#ff5e00"/>
<rect x="331.83" y="169.15" width="1.00" height="49.13" fill="#ff5e00"/>
<rect x="335.33" y="169.15" width="1.00" height="49.13" fill="#ff6800"/>
<rect x="336.33" y="169.15" width="2.50" height="49.13" fill="#ff5e00"/>
<rect x="49.00" y="217.93" width="1.85" height="49.13" fill="#ffb800"/>
<rect x="50.50" y="217.93" width="1.85" height="49.13" fill="#fff400"/>
<rect x="51.99" y="217.93" width="3.34" height="49.13" fill="#ff7e00"/>
<rect x="54.98" y="217.93" width="9.23" height="49.13" fill="#ff6600"/>
<rect x="56.29" y="217.93" width="1.00" height="49.13" fill="#ff6500"/>
<rect x="59.79" y="217.93" width="2.00" height="49.13" fill="#ff5a00"/>
<rect x="61.79" y="217.93" width="2.00" height="49.13" fill="#ff6600"/>
<rect x="63.86" y="217.93" width="6.33" height="49.13" fill="#fff400"/>
<rect x="66.53" y="217.93" width="1.50" height="49.13" fill="#fff610"/>
<rect x="69.84" y="217.93" width="6.23" height="49.13" fill="#ffff50"/>
<rect x="75.73" y="217.93" width="3.34" height="49.13" fill="#ffd400"/>
<rect x="78.72" y="217.93" width="10.02" height="49.13" fill="#fff400"/>
<rect x="80.42" y="217.93" width="2.50" height="49.13" fill="#fff100"/>
<rect x="88.39" y="217.93" width="39.74" height="49.13" fill="#ff6600"/>
<rect x="90.78" y="217.93" width="2.50" height="49.13" fill="#ff6200"/>
<rect x="93.28" y="217.93" width="1.00" height="49.13" fill="#ff5f00"/>
<rect x="94.28" y="217.93" width="2.00" height="49.13" fill="#ff6500"/>
<rect x="97.28" y="217.93" width="1.50" height="49.13" fill="#ff5900"/>
<rect x="98.78" y="217.93" width="2.50" height="49.13" fill="#ff5d00"/>
<rect x="104.28" y="217.93" width="2.50" height="49.13" fill="#ff6b00"/>
<rect x="107.78" y="217.93" width="1.00" height="49.13" fill="#ff6a00"/>
<rect x="109.78" y="217.93" width="2.00" height="49.13" fill="#ff5b00"/>
<rect x="111.78" y="217.93" width="2.50" height="49.13" fill="#ff6700"/>
<rect x="115.28" y="217.93" width="2.00" height="49.13" fill="#ff5d00"/>
<rect x="117.28" y="217.93" width="2.00" height="49.13" fill="#ff6e00"/>
<rect x="119.28" y="217.93" width="1.00" height="49.13" fill="#ff5b00"/>
<rect x="120.28" y="217.93" width="2.00" height="49.13" fill="#ff5a00"/>
<rect x="122.28" y="217.93" width="1.50" height="49.13" fill="#ff6500"/>
<rect x="127.79" y="217.93" width="9.33" height="49.13" fill="#ffd400"/>
<rect x="129.21" y="217.93" width="2.00" height="49.13" fill="#ffc900"/>
<rect x="131.21" y="217.93" width="1.50" height="49.13" fill="#ffcb00"/>
<rect x="132.71" y="217.93" width="1.00" height="49.13" fill="#ffd200"/>
<rect x="133.71" y="217.93" width="2.50" height="49.13" fill="#ffcd00"/>
<rect x="136.76" y="217.93" width="4.74" height="49.13" fill="#ffff50"/>
<rect x="141.15" y="217.93" width="3.34" height="49.13" fill="#ffd400"/>
<rect x="144.14" y="217.93" width="4.94" height="49.13" fill="#fff400"/>
<rect x="145.42" y="217.93" width="2.50" height="49.13" fill="#ffe600"/>
<rect x="148.73" y="217.93" width="1.85" height="49.13" fill="#ffb800"/>
<rect x="150.22" y="217.93" width="6.33" height="49.13" fill="#ff6600"/>
<rect x="151.91" y="217.93" width="2.50" height="49.13" fill="#ff6500"/>
<rect x="154.41" y="217.93" width="1.80" height="49.13" fill="#ff5800"/>
<rect x="156.21" y="217.93" width="6.23" height="49.13" fill="#fff400"/>
<rect x="156.96" y="217.93" width="2.50" height="49.13" fill="#fff81a"/>
<rect x="160.96" y="217.93" width="1.13" height="49.13" fill="#fff400"/>
<rect x="162.09" y="217.93" width="4.84" height="49.13" fill="#ffd400"/>
<rect x="163.60" y="217.93" width="1.00" height="49.13" fill="#ffc800"/>
<rect x="164.60" y="217.93" width="1.00" height="49.13" fill="#ffd100"/>
<rect x="166.58" y="217.93" width="7.73" height="49.13" fill="#fff400"/>
<rect x="169.67" y="217.93" width="1.00" height="49.13" fill="#fff612"/>
<rect x="173.96" y="217.93" width="6.33" height="49.13" fill="#ffd400"/>
<rect x="176.35" y="217.93" width="2.00" height="49.13" fill="#ffcc00"/>
<rect x="179.94" y="217.93" width="7.73" height="49.13" fill="#ffff50"/>
<rect x="181.32" y="217.93" width="1.00" height="49.13" fill="#fffb30"/>
<rect x="184.32" y="217.93" width="1.50" height="49.13" fill="#ffff58"/>
<rect x="187.32" y="217.93" width="6.33" height="49.13" fill="#fff400"/>
<rect x="189.08" y="217.93" width="2.00" height="49.13" fill="#fff100"/>
<rect x="193.31" y="217.93" width="6.33" height="49.13" fill="#ffd400"/>
<rect x="194.78" y="217.93" width="2.00" height="49.13" fill="#ffd000"/>
<rect x="197.78" y="217.93" width="1.51" height="49.13" fill="#ffcf00"/>
<rect x="199.29" y="217.93" width="9.23" height="49.13" fill="#fff400"/>
<rect x="204.41" y="217.93" width="1.50" height="49.13" fill="#fff508"/>
<rect x="205.91" y="217.93" width="1.50" height="49.13" fill="#fff924"/>
<rect x="208.17" y="217.93" width="3.34" height="49.13" fill="#ff7e00"/>
<rect x="211.16" y="217.93" width="3.34" height="49.13" fill="#ffff50"/>
<rect x="214.15" y="217.93" width="6.23" height="49.13" fill="#ffb800"/>
<rect x="220.03" y="217.93" width="28.77" height="49.13" fill="#ff6600"/>
<rect x="220.55" y="217.93" width="1.50" height="49.13" fill="#ff6200"/>
<rect x="222.05" y="217.93" width="2.50" height="49.13" fill="#ff6200"/>
<rect x="224.55" y="217.93" width="1.00" height="49.13" fill="#ff6900"/>
<rect x="225.55" y="217.93" width="2.50" height="49.13" fill="#ff6600"/>
<rect x="228.05" y="217.93" width="2.50" height="49.13" fill="#ff5c00"/>
<rect x="230.55" y="217.93" width="1.50" height="49.13" fill="#ff5b00"/>
<rect x="232.05" y="217.93" width="2.50" height="49.13" fill="#ff5a00"/>
<rect x="239.55" y="217.93" width="2.50" height="49.13" fill="#ff6b00"/>
<rect x="248.46" y="217.93" width="94.09" height="49.13" fill="#ff6e00"/>
<rect x="250.08" y="217.93" width="1.50" height="49.13" fill="#ff6500"/>
<rect x="254.08" y="217.93" width="1.50" height="49.13" fill="#ff6400"/>
<rect x="255.58" y="217.93" width="2.00" height="49.13" fill="#ff6e00"/>
<rect x="261.08" y="217.93" width="2.50" height="49.13" fill="#ff6d00"/>
<rect x="265.08" y="217.93" width="1.00" height="49.13" fill="#ff6a00"/>
<rect x="268.08" y="217.93" width="2.50" height="49.13" fill="#ff7c00"/>
<rect x="270.58" y="217.93" width="1.00" height="49.13" fill="#ff7100"/>
<rect x="271.58" y="217.93" width="2.50" height="49.13" fill="#ff7400"/>
<rect x="274.08" y="217.93" width="2.00" height="49.13" fill="#ff6300"/>
<rect x="276.08" y="217.93" width="2.00" height="49.13" fill="#ff7b00"/>
<rect x="278.08" y="217.93" width="1.50" height="49.13" fill="#ff7a00"/>
<rect x="279.58" y="217.93" width="1.00" height="49.13" fill="#ff6e00"/>
<rect x="280.58" y="217.93" width="1.00" height="49.13" fill="#ff6f00"/>
<rect x="281.58" y="217.93" width="1.00" height="49.13" fill="#ff7900"/>
<rect x="286.08" y="217.93" width="1.00" height="49.13" fill="#ff6900"/>
<rect x="287.08" y="217.93" width="2.00" height="49.13" fill="#ff6a00"/>
<rect x="289.08" y="217.93" width="1.00" height="49.13" fill="#ff6600"/>
<rect x="290.08" y="217.93" width="2.50" height="49.13" fill="#ff7a00"/>
<rect x="294.58" y="217.93" width="1.50" height="49.13" fill="#ff6200"/>
<rect x="301.58" y="217.93" width="2.50" height="49.13" fill="#ff6300"/>
<rect x="304.08" y="217.93" width="2.00" height="49.13" fill="#ff6e00"/>
<rect x="320.58" y="217.93" width="2.50" height="49.13" fill="#ff7600"/>
<rect x="325.08" y="217.93" width="1.50" height="49.13" fill="#ff6100"/>
<rect x="329.58" y="217.93" width="1.00" height="49.13" fill="#ff6700"/>
<rect x="332.58" y="217.93" width="1.00" height="49.13" fill="#ff6c00"/>
<rect x="333.58" y="217.93" width="1.00" height="49.13" fill="#ff7600"/>
<rect x="334.58" y="217.93" width="1.00" height="49.13" fill="#ff6f00"/>
<rect x="335.58" y="217.93" width="1.00" height="49.13" fill="#ff6100"/>
<rect x="336.58" y="217.93" width="1.50" height="49.13" fill="#ff7900"/>
<rect x="338.08" y="217.93" width="1.00" height="49.13" fill="#ff6300"/>
<rect x="340.08" y="217.93" width="1.00" height="49.13" fill="#ff7300"/>
<rect x="49.00" y="266.72" width="1.85" height="49.13" fill="#ffff50"/>
<rect x="50.50" y="266.72" width="2.54" height="49.13" fill="#ffb800"/>
<rect x="52.69" y="266.72" width="2.64" height="49.13" fill="#ff7e00"/>
<rect x="54.98" y="266.72" width="9.23" height="49.13" fill="#ff5200"/>
<rect x="59.33" y="266.72" width="1.50" height="49.13" fill="#ff4f00"/>
<rect x="63.86" y="266.72" width="3.34" height="49.13" fill="#fff400"/>
<rect x="66.85" y="266.72" width="3.34" height="49.13" fill="#ffb800"/>
<rect x="69.84" y="266.72" width="5.44" height="49.13" fill="#fff400"/>
<rect x="74.93" y="266.72" width="2.64" height="49.13" fill="#ffb800"/>
<rect x="77.22" y="266.72" width="4.84" height="49.13" fill="#ffff50"/>
<rect x="78.63" y="266.72" width="2.50" height="49.13" fill="#fffc3c"/>
<rect x="81.71" y="266.72" width="3.34" height="49.13" fill="#ffd400"/>
<rect x="84.70" y="266.72" width="4.04" height="49.13" fill="#ffb800"/>
<rect x="86.27" y="266.72" width="2.00" height="49.13" fill="#ffae00"/>
<rect x="88.39" y="266.72" width="39.74" height="49.13" fill="#ff5200"/>
<rect x="90.38" y="266.72" width="1.50" height="49.13" fill="#ff5800"/>
<rect x="91.88" y="266.72" width="1.50" height="49.13" fill="#ff4900"/>
<rect x="93.38" y="266.72" width="1.00" height="49.13" fill="#ff4f00"/>
<rect x="94.38" y="266.72" width="2.50" height="49.13" fill="#ff5b00"/>
<rect x="96.88" y="266.72" width="2.00" height="49.13" fill="#ff5500"/>
<rect x="103.88" y="266.72" width="2.00" height="49.13" fill="#ff4d00"/>
<rect x="106.88" y="266.72" width="1.00" height="49.13" fill="#ff5d00"/>
<rect x="107.88" y="266.72" width="1.50" height="49.13" fill="#ff5b00"/>
<rect x="109.38" y="266.72" width="1.00" height="49.13" fill="#ff5200"/>
<rect x="110.38" y="266.72" width="2.50" height="49.13" fill="#ff4c00"/>
<rect x="113.88" y="266.72" width="1.00" height="49.13" fill="#ff5700"/>
<rect x="116.88" y="266.72" width="1.00" height="49.13" fill="#ff4500"/>
<rect x="117.88" y="266.72" width="2.50" height="49.13" fill="#ff5b00"/>
<rect x="120.38" y="266.72" width="2.50" height="49.13" fill="#ff4a00"/>
<rect x="122.88" y="266.72" width="1.00" height="49.13" fill="#ff5400"/>
<rect x="123.88" y="266.72" width="2.50" height="49.13" fill="#ff4b00"/>
<rect x="126.38" y="266.72" width="1.00" height="49.13" fill="#ff4600"/>
<rect x="127.79" y="266.72" width="4.84" height="49.13" fill="#ffd400"/>
<rect x="129.74" y="266.72" width="2.00" height="49.13" fill="#ffd000"/>
<rect x="132.27" y="266.72" width="4.84" height="49.13" fill="#fff400"/>
<rect x="132.95" y="266.72" width="2.50" height="49.13" fill="#fff50a"/>
<rect x="135.45" y="266.72" width="1.00" height="49.13" fill="#ffeb00"/>
<rect x="136.76" y="266.72" width="3.34" height="49.13" fill="#ffb800"/>
<rect x="139.75" y="266.72" width="9.33" height="49.13" fill="#ffff50"/>
<rect x="141.61" y="266.72" width="1.00" height="49.13" fill="#fffd43"/>
<rect x="142.61" y="266.72" width="1.00" height="49.13" fill="#fffe4c"/>
<rect x="143.61" y="266.72" width="1.00" height="49.13" fill="#fffd41"/>
<rect x="144.61" y="266.72" width="1.50" height="49.13" fill="#fffb32"/>
<rect x="147.11" y="266.72" width="1.00" height="49.13" fill="#fffc3b"/>
<rect x="148.73" y="266.72" width="2.54" height="49.13" fill="#ff7e00"/>
<rect x="150.92" y="266.72" width="5.64" height="49.13" fill="#ff5200"/>
<rect x="152.54" y="266.72" width="1.00" height="49.13" fill="#ff5b00"/>
<rect x="154.54" y="266.72" width="1.50" height="49.13" fill="#ff5d00"/>
<rect x="156.21" y="266.72" width="10.72" height="49.13" fill="#fff400"/>
<rect x="159.29" y="266.72" width="1.50" height="49.13" fill="#fff300"/>
<rect x="160.79" y="266.72" width="2.50" height="49.13" fill="#fff60d"/>
<rect x="163.29" y="266.72" width="1.00" height="49.13" fill="#ffed00"/>
<rect x="166.58" y="266.72" width="3.34" height="49.13" fill="#ffb800"/>
<rect x="169.57" y="266.72" width="4.04" height="49.13" fill="#ffff50"/>
<rect x="173.26" y="266.72" width="2.54" height="49.13" fill="#ff7e00"/>
<rect x="175.45" y="266.72" width="6.53" height="49.13" fill="#fff400"/>
<rect x="178.31" y="266.72" width="2.50" height="49.13" fill="#fff922"/>
<rect x="181.64" y="266.72" width="4.94" height="49.13" fill="#ffb800"/>
<rect x="182.64" y="266.72" width="1.50" height="49.13" fill="#ffb400"/>
<rect x="184.14" y="266.72" width="1.50" height="49.13" fill="#ffb700"/>
<rect x="186.23" y="266.72" width="3.34" height="49.13" fill="#fff400"/>
<rect x="189.22" y="266.72" width="4.24" height="49.13" fill="#ffb800"/>
<rect x="189.74" y="266.72" width="1.00" height="49.13" fill="#ffb200"/>
<rect x="191.74" y="266.72" width="1.00" height="49.13" fill="#ffbc00"/>
<rect x="193.11" y="266.72" width="3.34" height="49.13" fill="#ff7e00"/>
<rect x="196.10" y="266.72" width="4.24" height="49.13" fill="#fff400"/>
<rect x="196.83" y="266.72" width="1.00" height="49.13" fill="#fff508"/>
<rect x="197.83" y="266.72" width="1.00" height="49.13" fill="#ffef00"/>
<rect x="199.99" y="266.72" width="1.85" height="49.13" fill="#ffff50"/>
<rect x="201.48" y="266.72" width="7.43" height="49.13" fill="#fff400"/>
<rect x="202.45" y="266.72" width="2.00" height="49.13" fill="#fff000"/>
<rect x="208.56" y="266.72" width="3.34" height="49.13" fill="#ffb800"/>
<rect x="211.56" y="266.72" width="2.74" height="49.13" fill="#fff400"/>
<rect x="213.95" y="266.72" width="4.94" height="49.13" fill="#ffb800"/>
<rect x="217.17" y="266.72" width="1.37" height="49.13" fill="#ffc100"/>
<rect x="218.54" y="266.72" width="124.01" height="49.13" fill="#ff5200"/>
<rect x="222.82" y="266.72" width="1.50" height="49.13" fill="#ff4800"/>
<rect x="224.32" y="266.72" width="2.00" height="49.13" fill="#ff4c00"/>
<rect x="228.82" y="266.72" width="1.00" height="49.13" fill="#ff5c00"/>
<rect x="229.82" y="266.72" width="1.50" height="49.13" fill="#ff4f00"/>
<rect x="233.82" y="266.72" width="2.50" height="49.13" fill="#ff4700"/>
<rect x="236.32" y="266.72" width="1.00" height="49.13" fill="#ff5200"/>
<rect x="237.32" y="266.72" width="1.50" height="49.13" fill="#ff4b00"/>
<rect x="249.82" y="266.72" width="2.00" height="49.13" fill="#ff5d00"/>
<rect x="251.82" y="266.72" width="1.00" height="49.13" fill="#ff4700"/>
<rect x="252.82" y="266.72" width="1.00" height="49.13" fill="#ff4800"/>
<rect x="253.82" y="266.72" width="1.00" height="49.13" fill="#ff5200"/>
<rect x="254.82" y="266.72" width="1.00" height="49.13" fill="#ff4e00"/>
<rect x="255.82" y="266.72" width="2.50" height="49.13" fill="#ff5800"/>
<rect x="258.32" y="266.72" width="1.00" height="49.13" fill="#ff5600"/>
<rect x="261.32" y="266.72" width="1.00" height="49.13" fill="#ff5e00"/>
<rect x="262.32" y="266.72" width="2.50" height="49.13" fill="#ff4600"/>
<rect x="264.82" y="266.72" width="1.50" height="49.13" fill="#ff4e00"/>
<rect x="266.32" y="266.72" width="2.00" height="49.13" fill="#ff4d00"/>
<rect x="272.32" y="266.72" width="2.50" height="49.13" fill="#ff4e00"/>
<rect x="274.82" y="266.72" width="1.00" height="49.13" fill="#ff6100"/>
<rect x="275.82" y="266.72" width="1.50" height="49.13" fill="#ff4900"/>
<rect x="277.32" y="266.72" width="1.50" height="49.13" fill="#ff4c00"/>
<rect x="280.32" y="266.72" width="2.00" height="49.13" fill="#ff4500"/>
<rect x="283.32" y="266.72" width="1.00" height="49.13" fill="#ff5000"/>
<rect x="284.32" y="266.72" width="2.50" height="49.13" fill="#ff4e00"/>
<rect x="286.82" y="266.72" width="2.50" height="49.13" fill="#ff4c00"/>
<rect x="290.82" y="266.72" width="1.50" height="49.13" fill="#ff4700"/>
<rect x="292.32" y="266.72" width="1.50" height="49.13" fill="#ff5400"/>
<rect x="293.82" y="266.72" width="1.00" height="49.13" fill="#ff5100"/>
<rect x="296.82" y="266.72" width="1.00" height="49.13" fill="#ff5600"/>
<rect x="298.82" y="266.72" width="1.00" height="49.13" fill="#ff5100"/>
<rect x="306.82" y="266.72" width="2.00" height="49.13" fill="#ff5400"/>
<rect x="311.32" y="266.72" width="2.00" height="49.13" fill="#ff5500"/>
<rect x="315.82" y="266.72" width="2.00" height="49.13" fill="#ff5600"/>
<rect x="317.82" y="266.72" width="2.50" height="49.13" fill="#ff4700"/>
<rect x="320.32" y="266.72" width="1.50" height="49.13" fill="#ff4800"/>
<rect x="322.82" y="266.72" width="2.50" height="49.13" fill="#ff5b00"/>
<rect x="325.32" y="266.72" width="2.50" height="49.13" fill="#ff4500"/>
<rect x="328.82" y="266.72" width="2.50" height="49.13" fill="#ff5700"/>
<rect x="331.32" y="266.72" width="2.50" height="49.13" fill="#ff4f00"/>
<rect x="333.82" y="266.72" width="2.00" height="49.13" fill="#ff4c00"/>
<rect x="335.82" y="266.72" width="1.00" height="49.13" fill="#ff4900"/>
<rect x="336.82" y="266.72" width="2.50" height="49.13" fill="#ff4b00"/>
<rect x="339.32" y="266.72" width="2.00" height="49.13" fill="#ff5200"/>
</g>
<g>
<rect x="389.30" y="22.80" width="21.22" height="49.13" fill="#ff6600"/>
<rect x="391.23" y="22.80" width="1.00" height="49.13" fill="#ff6200"/>
<rect x="393.23" y="22.80" width="1.50" height="49.13" fill="#ff5d00"/>
<rect x="403.73" y="22.80" width="2.50" height="49.13" fill="#ff5800"/>
<rect x="406.23" y="22.80" width="1.00" height="49.13" fill="#ff7100"/>
<rect x="407.23" y="22.80" width="2.00" height="49.13" fill="#ff6f00"/>
<rect x="410.17" y="22.80" width="1.85" height="49.13" fill="#ffb800"/>
<rect x="411.67" y="22.80" width="3.25" height="49.13" fill="#fff400"/>
<rect x="414.57" y="22.80" width="1.85" height="49.13" fill="#ffb800"/>
<rect x="416.06" y="22.80" width="11.53" height="49.13" fill="#ff6600"/>
<rect x="416.81" y="22.80" width="1.00" height="49.13" fill="#ff5800"/>
<rect x="417.81" y="22.80" width="1.50" height="49.13" fill="#ff6600"/>
<rect x="420.81" y="22.80" width="2.50" height="49.13" fill="#ff7000"/>
<rect x="427.25" y="22.80" width="2.35" height="49.13" fill="#ff7e00"/>
<rect x="429.25" y="22.80" width="20.32" height="49.13" fill="#ff6600"/>
<rect x="430.28" y="22.80" width="2.00" height="49.13" fill="#ff6c00"/>
<rect x="434.28" y="22.80" width="1.00" height="49.13" fill="#ff7100"/>
<rect x="435.28" y="22.80" width="2.50" height="49.13" fill="#ff6d00"/>
<rect x="439.78" y="22.80" width="2.00" height="49.13" fill="#ff6b00"/>
<rect x="449.22" y="22.80" width="2.35" height="49.13" fill="#ff7e00"/>
<rect x="451.22" y="22.80" width="13.33" height="49.13" fill="#ff6600"/>
<rect x="452.64" y="22.80" width="2.00" height="49.13" fill="#ff7200"/>
<rect x="459.64" y="22.80" width="2.50" height="49.13" fill="#ff6c00"/>
<rect x="462.14" y="22.80" width="2.00" height="49.13" fill="#ff7100"/>
<rect x="464.20" y="22.80" width="2.35" height="49.13" fill="#ff7e00"/>
<rect x="466.19" y="22.80" width="35.30" height="49.13" fill="#ff6600"/>
<rect x="471.13" y="22.80" width="1.00" height="49.13" fill="#ff6a00"/>
<rect x="476.63" y="22.80" width="1.00" height="49.13" fill="#ff6b00"/>
<rect x="477.63" y="22.80" width="1.00" height="49.13" fill="#ff6200"/>
<rect x="479.63" y="22.80" width="1.00" height="49.13" fill="#ff5900"/>
<rect x="481.63" y="22.80" width="1.00" height="49.13" fill="#ff5b00"/>
<rect x="488.13" y="22.80" width="1.00" height="49.13" fill="#ff5800"/>
<rect x="490.63" y="22.80" width="1.00" height="49.13" fill="#ff6600"/>
<rect x="491.63" y="22.80" width="1.50" height="49.13" fill="#ff6c00"/>
<rect x="496.13" y="22.80" width="1.00" height="49.13" fill="#ff5e00"/>
<rect x="498.63" y="22.80" width="1.00" height="49.13" fill="#ff6f00"/>
<rect x="499.63" y="22.80" width="1.00" height="49.13" fill="#ff6d00"/>
<rect x="501.15" y="22.80" width="2.35" height="49.13" fill="#ff7e00"/>
<rect x="503.14" y="22.80" width="16.33" height="49.13" fill="#ff6600"/>
<rect x="504.37" y="22.80" width="1.50" height="49.13" fill="#ff7200"/>
<rect x="505.87" y="22.80" width="1.50" height="49.13" fill="#ff7200"/>
<rect x="509.37" y="22.80" width="1.50" height="49.13" fill="#ff5c00"/>
<rect x="510.87" y="22.80" width="1.00" height="49.13" fill="#ff5e00"/>
<rect x="513.87" y="22.80" width="1.00" height="49.13" fill="#ff6800"/>
<rect x="519.12" y="22.80" width="2.35" height="49.13" fill="#ff7e00"/>
<rect x="521.12" y="22.80" width="19.52" height="49.13" fill="#ff6600"/>
<rect x="522.00" y="22.80" width="2.00" height="49.13" fill="#ff6c00"/>
<rect x="524.00" y="22.80" width="1.00" height="49.13" fill="#ff6300"/>
<rect x="525.00" y="22.80" width="1.00" height="49.13" fill="#ff5a00"/>
<rect x="526.00" y="22.80" width="1.00" height="49.13" fill="#ff5c00"/>
<rect x="527.00" y="22.80" width="1.00" height="49.13" fill="#ff5800"/>
<rect x="528.00" y="22.80" width="2.00" height="49.13" fill="#ff6700"/>
<rect x="530.00" y="22.80" width="2.00" height="49.13" fill="#ff7000"/>
<rect x="533.00" y="22.80" width="2.00" height="49.13" fill="#ff5800"/>
<rect x="535.00" y="22.80" width="2.50" height="49.13" fill="#ff6400"/>
<rect x="540.29" y="22.80" width="4.14" height="49.13" fill="#fff400"/>
<rect x="542.17" y="22.80" width="1.91" height="49.13" fill="#fff401"/>
<rect x="544.09" y="22.80" width="4.24" height="49.13" fill="#ffd400"/>
<rect x="545.97" y="22.80" width="2.01" height="49.13" fill="#ffd900"/>
<rect x="547.98" y="22.80" width="5.64" height="49.13" fill="#ffb800"/>
<rect x="549.88" y="22.80" width="1.50" height="49.13" fill="#ffbd00"/>
<rect x="551.38" y="22.80" width="1.00" height="49.13" fill="#ffaf00"/>
<rect x="553.28" y="22.80" width="3.45" height="49.13" fill="#ffd400"/>
<rect x="556.37" y="22.80" width="9.54" height="49.13" fill="#ff9800"/>
<rect x="556.96" y="22.80" width="2.00" height="49.13" fill="#ffa300"/>
<rect x="558.96" y="22.80" width="2.50" height="49.13" fill="#ff9300"/>
<rect x="561.46" y="22.80" width="1.50" height="49.13" fill="#ff9e00"/>
<rect x="563.96" y="22.80" width="1.00" height="49.13" fill="#ff9500"/>
<rect x="565.56" y="22.80" width="6.44" height="49.13" fill="#ff7e00"/>
<rect x="570.13" y="22.80" width="1.50" height="49.13" fill="#ff7200"/>
<rect x="571.65" y="22.80" width="4.94" height="49.13" fill="#ffb800"/>
<rect x="576.24" y="22.80" width="5.04" height="49.13" fill="#fff400"/>
<rect x="580.94" y="22.80" width="10.64" height="49.13" fill="#ffd400"/>
<rect x="582.52" y="22.80" width="2.00" height="49.13" fill="#ffe100"/>
<rect x="585.52" y="22.80" width="1.50" height="49.13" fill="#ffdf00"/>
<rect x="589.02" y="22.80" width="1.50" height="49.13" fill="#ffcb00"/>
<rect x="591.22" y="22.80" width="4.14" height="49.13" fill="#ff9800"/>
<rect x="592.62" y="22.80" width="2.40" height="49.13" fill="#ff9d00"/>
<rect x="595.02" y="22.80" width="3.35" height="49.13" fill="#ffd400"/>
<rect x="598.01" y="22.80" width="4.74" height="49.13" fill="#fff400"/>
<rect x="602.41" y="22.80" width="3.35" height="49.13" fill="#ffb800"/>
<rect x="605.40" y="22.80" width="3.95" height="49.13" fill="#ff9800"/>
<rect x="606.77" y="22.80" width="1.00" height="49.13" fill="#ffa600"/>
<rect x="609.00" y="22.80" width="5.64" height="49.13" fill="#ffd400"/>
<rect x="611.85" y="22.80" width="1.00" height="49.13" fill="#ffcf00"/>
<rect x="614.29" y="22.80" width="6.34" height="49.13" fill="#ffb800"/>
<rect x="616.12" y="22.80" width="1.50" height="49.13" fill="#ffb900"/>
<rect x="617.62" y="22.80" width="1.00" height="49.13" fill="#ffc400"/>
<rect x="618.62" y="22.80" width="1.66" height="49.13" fill="#ffb800"/>
<rect x="620.28" y="22.80" width="6.34" height="49.13" fill="#ff9800"/>
<rect x="621.86" y="22.80" width="1.50" height="49.13" fill="#ff9000"/>
<rect x="623.36" y="22.80" width="1.00" height="49.13" fill="#ffa600"/>
<rect x="626.28" y="22.80" width="7.74" height="49.13" fill="#ffd400"/>
<rect x="630.48" y="22.80" width="1.00" height="49.13" fill="#ffc900"/>
<rect x="631.48" y="22.80" width="1.50" height="49.13" fill="#ffda00"/>
<rect x="633.67" y="22.80" width="6.34" height="49.13" fill="#ffb800"/>
<rect x="635.57" y="22.80" width="2.00" height="49.13" fill="#ffb900"/>
<rect x="638.57" y="22.80" width="1.00" height="49.13" fill="#ffaf00"/>
<rect x="639.66" y="22.80" width="6.24" height="49.13" fill="#ffd400"/>
<rect x="643.38" y="22.80" width="1.00" height="49.13" fill="#ffd500"/>
<rect x="645.55" y="22.80" width="4.84" height="49.13" fill="#ff9800"/>
<rect x="647.27" y="22.80" width="1.00" height="49.13" fill="#ff9100"/>
<rect x="650.04" y="22.80" width="6.24" height="49.13" fill="#ffd400"/>
<rect x="651.90" y="22.80" width="1.00" height="49.13" fill="#ffd600"/>
<rect x="652.90" y="22.80" width="1.00" height="49.13" fill="#ffe000"/>
<rect x="653.90" y="22.80" width="2.03" height="49.13" fill="#ffdd00"/>
<rect x="655.94" y="22.80" width="4.84" height="49.13" fill="#ffb800"/>
<rect x="659.14" y="22.80" width="1.29" height="49.13" fill="#ffba00"/>
<rect x="660.43" y="22.80" width="6.34" height="49.13" fill="#ffd400"/>
<rect x="662.63" y="22.80" width="1.00" height="49.13" fill="#ffe000"/>
<rect x="666.42" y="22.80" width="6.34" height="49.13" fill="#ff9800"/>
<rect x="667.91" y="22.80" width="2.50" height="49.13" fill="#ff9d00"/>
<rect x="670.41" y="22.80" width="1.50" height="49.13" fill="#ffa300"/>
<rect x="672.41" y="22.80" width="6.24" height="49.13" fill="#ffd400"/>
<rect x="674.60" y="22.80" width="1.50" height="49.13" fill="#ffdb00"/>
<rect x="676.10" y="22.80" width="2.00" height="49.13" fill="#ffd800"/>
<rect x="678.31" y="22.80" width="4.24" height="49.13" fill="#ffb800"/>
<rect x="680.06" y="22.80" width="1.00" height="49.13" fill="#ffb800"/>
<rect x="389.30" y="71.58" width="21.22" height="49.13" fill="#ff7e00"/>
<rect x="391.53" y="71.58" width="1.00" height="49.13" fill="#ff7f00"/>
<rect x="395.53" y="71.58" width="1.50" height="49.13" fill="#ff7300"/>
<rect x="399.53" y="71.58" width="1.50" height="49.13" fill="#ff8600"/>
<rect x="401.03" y="71.58" width="1.50" height="49.13" fill="#ff8800"/>
<rect x="404.03" y="71.58" width="2.00" height="49.13" fill="#ff8800"/>
<rect x="410.17" y="71.58" width="6.24" height="49.13" fill="#ffff50"/>
<rect x="412.94" y="71.58" width="1.00" height="49.13" fill="#fffc3d"/>
<rect x="416.06" y="71.58" width="13.53" height="49.13" fill="#ff7e00"/>
<rect x="421.35" y="71.58" width="1.00" height="49.13" fill="#ff7200"/>
<rect x="422.35" y="71.58" width="2.00" height="49.13" fill="#ff7e00"/>
<rect x="424.35" y="71.58" width="1.50" height="49.13" fill="#ff7300"/>
<rect x="429.25" y="71.58" width="2.35" height="49.13" fill="#ff9800"/>
<rect x="431.24" y="71.58" width="28.31" height="49.13" fill="#ff7e00"/>
<rect x="433.23" y="71.58" width="2.00" height="49.13" fill="#ff8200"/>
<rect x="435.23" y="71.58" width="1.50" height="49.13" fill="#ff7400"/>
<rect x="436.73" y="71.58" width="1.00" height="49.13" fill="#ff8500"/>
<rect x="437.73" y="71.58" width="2.00" height="49.13" fill="#ff8600"/>
<rect x="439.73" y="71.58" width="1.50" height="49.13" fill="#ff8300"/>
<rect x="441.23" y="71.58" width="2.50" height="49.13" fill="#ff8200"/>
<rect x="445.23" y="71.58" width="1.50" height="49.13" fill="#ff8100"/>
<rect x="446.73" y="71.58" width="1.00" height="49.13" fill="#ff7b00"/>
<rect x="447.73" y="71.58" width="1.00" height="49.13" fill="#ff8700"/>
<rect x="448.73" y="71.58" width="2.00" height="49.13" fill="#ff8700"/>
<rect x="450.73" y="71.58" width="1.00" height="49.13" fill="#ff7b00"/>
<rect x="451.73" y="71.58" width="1.00" height="49.13" fill="#ff7400"/>
<rect x="453.73" y="71.58" width="2.00" height="49.13" fill="#ff7900"/>
<rect x="455.73" y="71.58" width="2.50" height="49.13" fill="#ff7800"/>
<rect x="459.20" y="71.58" width="2.35" height="49.13" fill="#ff9800"/>
<rect x="461.20" y="71.58" width="48.28" height="49.13" fill="#ff7e00"/>
<rect x="462.66" y="71.58" width="1.00" height="49.13" fill="#ff7500"/>
<rect x="463.66" y="71.58" width="2.00" height="49.13" fill="#ff7400"/>
<rect x="465.66" y="71.58" width="1.00" height="49.13" fill="#ff7400"/>
<rect x="466.66" y="71.58" width="1.50" height="49.13" fill="#ff7900"/>
<rect x="469.16" y="71.58" width="2.50" height="49.13" fill="#ff8800"/>
<rect x="471.66" y="71.58" width="2.50" height="49.13" fill="#ff7400"/>
<rect x="474.16" y="71.58" width="1.00" height="49.13" fill="#ff8500"/>
<rect x="475.16" y="71.58" width="1.00" height="49.13" fill="#ff8000"/>
<rect x="476.16" y="71.58" width="1.00" height="49.13" fill="#ff8400"/>
<rect x="484.66" y="71.58" width="1.50" height="49.13" fill="#ff8100"/>
<rect x="491.66" y="71.58" width="2.00" height="49.13" fill="#ff7b00"/>
<rect x="493.66" y="71.58" width="2.00" height="49.13" fill="#ff7300"/>
<rect x="495.66" y="71.58" width="2.50" height="49.13" fill="#ff8800"/>
<rect x="500.66" y="71.58" width="1.00" height="49.13" fill="#ff7d00"/>
<rect x="501.66" y="71.58" width="1.00" height="49.13" fill="#ff8200"/>
<rect x="502.66" y="71.58" width="1.00" height="49.13" fill="#ff7400"/>
<rect x="503.66" y="71.58" width="1.00" height="49.13" fill="#ff8500"/>
<rect x="504.66" y="71.58" width="2.00" height="49.13" fill="#ff8700"/>
<rect x="506.66" y="71.58" width="1.00" height="49.13" fill="#ff7400"/>
<rect x="507.66" y="71.58" width="1.00" height="49.13" fill="#ff7e00"/>
<rect x="509.14" y="71.58" width="2.35" height="49.13" fill="#ff6600"/>
<rect x="511.13" y="71.58" width="29.51" height="49.13" fill="#ff7e00"/>
<rect x="511.72" y="71.58" width="1.00" height="49.13" fill="#ff7000"/>
<rect x="512.72" y="71.58" width="2.50" height="49.13" fill="#ff7f00"/>
<rect x="515.22" y="71.58" width="1.00" height="49.13" fill="#ff7e00"/>
<rect x="516.22" y="71.58" width="1.00" height="49.13" fill="#ff7700"/>
<rect x="517.22" y="71.58" width="2.00" height="49.13" fill="#ff7100"/>
<rect x="523.72" y="71.58" width="2.50" height="49.13" fill="#ff8800"/>
<rect x="526.22" y="71.58" width="1.00" height="49.13" fill="#ff8600"/>
<rect x="528.22" y="71.58" width="1.00" height="49.13" fill="#ff7500"/>
<rect x="529.22" y="71.58" width="1.50" height="49.13" fill="#ff7c00"/>
<rect x="530.72" y="71.58" width="2.00" height="49.13" fill="#ff7800"/>
<rect x="533.72" y="71.58" width="2.00" height="49.13" fill="#ff7f00"/>
<rect x="537.72" y="71.58" width="1.00" height="49.13" fill="#ff7400"/>
<rect x="540.29" y="71.58" width="7.24" height="49.13" fill="#ffff50"/>
<rect x="543.34" y="71.58" width="1.00" height="49.13" fill="#ffff58"/>
<rect x="547.18" y="71.58" width="3.45" height="49.13" fill="#fff400"/>
<rect x="550.28" y="71.58" width="3.35" height="49.13" fill="#ffff50"/>
<rect x="553.28" y="71.58" width="3.45" height="49.13" fill="#fff400"/>
<rect x="556.37" y="71.58" width="3.45" height="49.13" fill="#ffff50"/>
<rect x="559.47" y="71.58" width="4.94" height="49.13" fill="#fff400"/>
<rect x="564.06" y="71.58" width="3.35" height="49.13" fill="#ffd400"/>
<rect x="567.06" y="71.58" width="6.44" height="49.13" fill="#fff400"/>
<rect x="571.70" y="71.58" width="1.00" height="49.13" fill="#ffef00"/>
<rect x="573.15" y="71.58" width="6.54" height="49.13" fill="#ffff50"/>
<rect x="579.34" y="71.58" width="4.94" height="49.13" fill="#fff400"/>
<rect x="580.84" y="71.58" width="1.00" height="49.13" fill="#fff60b"/>
<rect x="583.93" y="71.58" width="5.44" height="49.13" fill="#ffd400"/>
<rect x="584.46" y="71.58" width="2.00" height="49.13" fill="#ffd500"/>
<rect x="589.03" y="71.58" width="3.35" height="49.13" fill="#fff400"/>
<rect x="592.02" y="71.58" width="4.04" height="49.13" fill="#ffb800"/>
<rect x="593.64" y="71.58" width="1.00" height="49.13" fill="#ffad00"/>
<rect x="595.72" y="71.58" width="7.04" height="49.13" fill="#ffff50"/>
<rect x="598.89" y="71.58" width="2.00" height="49.13" fill="#fffd3e"/>
<rect x="602.41" y="71.58" width="7.84" height="49.13" fill="#fff400"/>
<rect x="605.58" y="71.58" width="1.50" height="49.13" fill="#ffeb00"/>
<rect x="609.90" y="71.58" width="4.74" height="49.13" fill="#ffff50"/>
<rect x="614.29" y="71.58" width="10.84" height="49.13" fill="#fff400"/>
<rect x="620.66" y="71.58" width="1.50" height="49.13" fill="#fff715"/>
<rect x="622.16" y="71.58" width="1.00" height="49.13" fill="#ffef00"/>
<rect x="623.16" y="71.58" width="1.50" height="49.13" fill="#fff715"/>
<rect x="624.78" y="71.58" width="3.25" height="49.13" fill="#ffd400"/>
<rect x="627.67" y="71.58" width="4.84" height="49.13" fill="#fff400"/>
<rect x="629.17" y="71.58" width="2.00" height="49.13" fill="#fff300"/>
<rect x="632.17" y="71.58" width="13.73" height="49.13" fill="#ffff50"/>
<rect x="635.24" y="71.58" width="1.00" height="49.13" fill="#fffc38"/>
<rect x="638.24" y="71.58" width="2.50" height="49.13" fill="#fffd40"/>
<rect x="640.74" y="71.58" width="1.00" height="49.13" fill="#ffff6e"/>
<rect x="641.74" y="71.58" width="1.00" height="49.13" fill="#fffd42"/>
<rect x="642.74" y="71.58" width="1.00" height="49.13" fill="#ffff65"/>
<rect x="645.55" y="71.58" width="4.84" height="49.13" fill="#ffd400"/>
<rect x="647.10" y="71.58" width="2.50" height="49.13" fill="#ffd800"/>
<rect x="650.04" y="71.58" width="7.84" height="49.13" fill="#fff400"/>
<rect x="657.53" y="71.58" width="7.74" height="49.13" fill="#ffff50"/>
<rect x="660.62" y="71.58" width="1.50" height="49.13" fill="#fffc3c"/>
<rect x="662.12" y="71.58" width="2.50" height="49.13" fill="#ffff77"/>
<rect x="664.92" y="71.58" width="3.35" height="49.13" fill="#ffd400"/>
<rect x="667.92" y="71.58" width="14.63" height="49.13" fill="#ffff50"/>
<rect x="671.82" y="71.58" width="1.00" height="49.13" fill="#fffe4b"/>
<rect x="672.82" y="71.58" width="1.00" height="49.13" fill="#fffb33"/>
<rect x="673.82" y="71.58" width="2.50" height="49.13" fill="#ffff7d"/>
<rect x="680.32" y="71.58" width="1.00" height="49.13" fill="#fffa2e"/>
<rect x="389.30" y="120.37" width="21.22" height="49.13" fill="#ff7e00"/>
<rect x="389.86" y="120.37" width="1.00" height="49.13" fill="#ff7700"/>
<rect x="394.36" y="120.37" width="2.50" height="49.13" fill="#ff8200"/>
<rect x="398.86" y="120.37" width="1.00" height="49.13" fill="#ff8200"/>
<rect x="399.86" y="120.37" width="2.00" height="49.13" fill="#ff7f00"/>
<rect x="405.36" y="120.37" width="1.50" height="49.13" fill="#ff8800"/>
<rect x="408.36" y="120.37" width="1.50" height="49.13" fill="#ff8900"/>
<rect x="410.17" y="120.37" width="6.24" height="49.13" fill="#ffd400"/>
<rect x="410.71" y="120.37" width="1.50" height="49.13" fill="#ffd800"/>
<rect x="416.06" y="120.37" width="21.52" height="49.13" fill="#ff7e00"/>
<rect x="421.36" y="120.37" width="2.00" height="49.13" fill="#ff7700"/>
<rect x="423.36" y="120.37" width="1.00" height="49.13" fill="#ff7100"/>
<rect x="428.36" y="120.37" width="1.50" height="49.13" fill="#ff8700"/>
<rect x="430.86" y="120.37" width="1.00" height="49.13" fill="#ff8800"/>
<rect x="432.86" y="120.37" width="1.00" height="49.13" fill="#ff7f00"/>
<rect x="433.86" y="120.37" width="1.00" height="49.13" fill="#ff7b00"/>
<rect x="437.23" y="120.37" width="6.34" height="49.13" fill="#ff6600"/>
<rect x="438.61" y="120.37" width="1.00" height="49.13" fill="#ff6600"/>
<rect x="443.23" y="120.37" width="13.33" height="49.13" fill="#ff7e00"/>
<rect x="443.92" y="120.37" width="2.00" height="49.13" fill="#ff8400"/>
<rect x="446.92" y="120.37" width="2.50" height="49.13" fill="#ff8500"/>
<rect x="451.42" y="120.37" width="2.00" height="49.13" fill="#ff8000"/>
<rect x="454.42" y="120.37" width="1.00" height="49.13" fill="#ff8300"/>
<rect x="456.21" y="120.37" width="4.84" height="49.13" fill="#ff6600"/>
<rect x="460.70" y="120.37" width="13.83" height="49.13" fill="#ff7e00"/>
<rect x="461.58" y="120.37" width="2.00" height="49.13" fill="#ff7500"/>
<rect x="463.58" y="120.37" width="2.00" height="49.13" fill="#ff7600"/>
<rect x="469.08" y="120.37" width="2.00" height="49.13" fill="#ff8600"/>
<rect x="471.08" y="120.37" width="2.50" height="49.13" fill="#ff7700"/>
<rect x="474.18" y="120.37" width="4.34" height="49.13" fill="#ff6600"/>
<rect x="477.09" y="120.37" width="1.09" height="49.13" fill="#ff6900"/>
<rect x="478.18" y="120.37" width="23.32" height="49.13" fill="#ff7e00"/>
<rect x="481.04" y="120.37" width="2.50" height="49.13" fill="#ff7800"/>
<rect x="483.54" y="120.37" width="1.50" height="49.13" fill="#ff7e00"/>
<rect x="486.04" y="120.37" width="2.00" height="49.13" fill="#ff8000"/>
<rect x="488.04" y="120.37" width="2.50" height="49.13" fill="#ff7200"/>
<rect x="490.54" y="120.37" width="2.00" height="49.13" fill="#ff8800"/>
<rect x="494.04" y="120.37" width="2.50" height="49.13" fill="#ff7400"/>
<rect x="496.54" y="120.37" width="1.00" height="49.13" fill="#ff7e00"/>
<rect x="497.54" y="120.37" width="1.00" height="49.13" fill="#ff8800"/>
<rect x="501.15" y="120.37" width="1.75" height="49.13" fill="#ffb800"/>
<rect x="502.55" y="120.37" width="38.30" height="49.13" fill="#ff6600"/>
<rect x="504.99" y="120.37" width="1.00" height="49.13" fill="#ff5800"/>
<rect x="505.99" y="120.37" width="2.00" height="49.13" fill="#ff5700"/>
<rect x="507.99" y="120.37" width="1.50" height="49.13" fill="#ff6100"/>
<rect x="509.49" y="120.37" width="2.00" height="49.13" fill="#ff6e00"/>
<rect x="517.49" y="120.37" width="1.00" height="49.13" fill="#ff5a00"/>
<rect x="518.49" y="120.37" width="1.00" height="49.13" fill="#ff6000"/>
<rect x="520.49" y="120.37" width="1.00" height="49.13" fill="#ff6300"/>
<rect x="525.99" y="120.37" width="2.50" height="49.13" fill="#ff6c00"/>
<rect x="528.49" y="120.37" width="1.50" height="49.13" fill="#ff6000"/>
<rect x="531.99" y="120.37" width="2.00" height="49.13" fill="#ff5f00"/>
<rect x="533.99" y="120.37" width="2.50" height="49.13" fill="#ff6200"/>
<rect x="540.49" y="120.37" width="2.55" height="49.13" fill="#ffd400"/>
<rect x="542.69" y="120.37" width="4.84" height="49.13" fill="#fff400"/>
<rect x="544.27" y="120.37" width="1.00" height="49.13" fill="#fff300"/>
<rect x="547.18" y="120.37" width="4.84" height="49.13" fill="#ffd400"/>
<rect x="551.68" y="120.37" width="6.34" height="49.13" fill="#fff400"/>
<rect x="557.67" y="120.37" width="4.74" height="49.13" fill="#ffb800"/>
<rect x="559.44" y="120.37" width="2.50" height="49.13" fill="#ffbe00"/>
<rect x="562.06" y="120.37" width="6.34" height="49.13" fill="#ffff50"/>
<rect x="563.94" y="120.37" width="1.00" height="49.13" fill="#fffb32"/>
<rect x="565.94" y="120.37" width="1.50" height="49.13" fill="#ffff72"/>
<rect x="568.06" y="120.37" width="4.84" height="49.13" fill="#fff400"/>
<rect x="568.57" y="120.37" width="1.00" height="49.13" fill="#fff505"/>
<rect x="569.57" y="120.37" width="2.00" height="49.13" fill="#ffe800"/>
<rect x="572.55" y="120.37" width="4.84" height="49.13" fill="#ffd400"/>
<rect x="577.04" y="120.37" width="7.74" height="49.13" fill="#fff400"/>
<rect x="578.50" y="120.37" width="1.50" height="49.13" fill="#fff400"/>
<rect x="584.43" y="120.37" width="4.94" height="49.13" fill="#ffd400"/>
<rect x="585.37" y="120.37" width="1.00" height="49.13" fill="#ffd600"/>
<rect x="586.37" y="120.37" width="1.00" height="49.13" fill="#ffcb00"/>
<rect x="587.37" y="120.37" width="1.66" height="49.13" fill="#ffe000"/>
<rect x="589.03" y="120.37" width="7.04" height="49.13" fill="#fff400"/>
<rect x="590.81" y="120.37" width="1.50" height="49.13" fill="#ffe700"/>
<rect x="595.72" y="120.37" width="7.04" height="49.13" fill="#ffb800"/>
<rect x="599.42" y="120.37" width="1.00" height="49.13" fill="#ffad00"/>
<rect x="600.42" y="120.37" width="1.00" height="49.13" fill="#ffac00"/>
<rect x="602.41" y="120.37" width="7.84" height="49.13" fill="#fff400"/>
<rect x="604.12" y="120.37" width="2.50" height="49.13" fill="#ffe900"/>
<rect x="608.62" y="120.37" width="1.00" height="49.13" fill="#fff713"/>
<rect x="609.90" y="120.37" width="4.74" height="49.13" fill="#ffb800"/>
<rect x="614.29" y="120.37" width="4.84" height="49.13" fill="#fff400"/>
<rect x="618.79" y="120.37" width="3.35" height="49.13" fill="#ffb800"/>
<rect x="621.78" y="120.37" width="7.74" height="49.13" fill="#fff400"/>
<rect x="625.30" y="120.37" width="1.50" height="49.13" fill="#fff509"/>
<rect x="626.80" y="120.37" width="1.00" height="49.13" fill="#ffe800"/>
<rect x="627.80" y="120.37" width="1.00" height="49.13" fill="#fff719"/>
<rect x="629.17" y="120.37" width="4.84" height="49.13" fill="#ffff50"/>
<rect x="631.41" y="120.37" width="2.26" height="49.13" fill="#ffff82"/>
<rect x="633.67" y="120.37" width="4.84" height="49.13" fill="#ffb800"/>
<rect x="636.51" y="120.37" width="1.65" height="49.13" fill="#ffbc00"/>
<rect x="638.16" y="120.37" width="6.24" height="49.13" fill="#ff9800"/>
<rect x="638.72" y="120.37" width="1.50" height="49.13" fill="#ff9800"/>
<rect x="640.22" y="120.37" width="2.50" height="49.13" fill="#ff9100"/>
<rect x="644.05" y="120.37" width="4.84" height="49.13" fill="#ffd400"/>
<rect x="644.62" y="120.37" width="2.00" height="49.13" fill="#ffdc00"/>
<rect x="648.55" y="120.37" width="6.34" height="49.13" fill="#fff400"/>
<rect x="649.97" y="120.37" width="1.00" height="49.13" fill="#fff718"/>
<rect x="650.97" y="120.37" width="2.50" height="49.13" fill="#fff60c"/>
<rect x="654.54" y="120.37" width="4.74" height="49.13" fill="#ffd400"/>
<rect x="655.15" y="120.37" width="1.50" height="49.13" fill="#ffcd00"/>
<rect x="658.93" y="120.37" width="3.35" height="49.13" fill="#ffb800"/>
<rect x="661.93" y="120.37" width="6.34" height="49.13" fill="#fff400"/>
<rect x="663.11" y="120.37" width="1.50" height="49.13" fill="#fff000"/>
<rect x="664.61" y="120.37" width="2.00" height="49.13" fill="#ffe900"/>
<rect x="666.61" y="120.37" width="1.31" height="49.13" fill="#ffed00"/>
<rect x="667.92" y="120.37" width="4.84" height="49.13" fill="#ffff50"/>
<rect x="669.05" y="120.37" width="1.00" height="49.13" fill="#ffff7e"/>
<rect x="670.05" y="120.37" width="1.00" height="49.13" fill="#ffff82"/>
<rect x="672.41" y="120.37" width="4.84" height="49.13" fill="#ffd400"/>
<rect x="673.61" y="120.37" width="1.00" height="49.13" fill="#ffd900"/>
<rect x="674.61" y="120.37" width="1.00" height="49.13" fill="#ffc700"/>
<rect x="676.91" y="120.37" width="5.64" height="49.13" fill="#fff400"/>
<rect x="678.68" y="120.37" width="1.00" height="49.13" fill="#ffed00"/>
<rect x="389.30" y="169.15" width="21.22" height="49.13" fill="#ff7e00"/>
<rect x="390.26" y="169.15" width="2.50" height="49.13" fill="#ff7e00"/>
<rect x="394.76" y="169.15" width="2.00" height="49.13" fill="#ff8500"/>
<rect x="398.26" y="169.15" width="2.00" height="49.13" fill="#ff8000"/>
<rect x="400.26" y="169.15" width="1.50" height="49.13" fill="#ff7f00"/>
<rect x="403.26" y="169.15" width="2.50" height="49.13" fill="#ff7200"/>
<rect x="405.76" y="169.15" width="2.50" height="49.13" fill="#ff7f00"/>
<rect x="408.26" y="169.15" width="1.50" height="49.13" fill="#ff7600"/>
<rect x="410.17" y="169.15" width="6.24" height="49.13" fill="#ff4000"/>
<rect x="412.89" y="169.15" width="2.00" height="49.13" fill="#ff4000"/>
<rect x="414.89" y="169.15" width="1.00" height="49.13" fill="#ff4b00"/>
<rect x="416.06" y="169.15" width="42.09" height="49.13" fill="#ff7e00"/>
<rect x="416.81" y="169.15" width="1.00" height="49.13" fill="#ff7d00"/>
<rect x="417.81" y="169.15" width="2.50" height="49.13" fill="#ff7a00"/>
<rect x="420.31" y="169.15" width="1.00" height="49.13" fill="#ff8500"/>
<rect x="421.31" y="169.15" width="1.00" height="49.13" fill="#ff7100"/>
<rect x="422.31" y="169.15" width="2.00" height="49.13" fill="#ff7800"/>
<rect x="427.31" y="169.15" width="1.00" height="49.13" fill="#ff7700"/>
<rect x="429.81" y="169.15" width="1.00" height="49.13" fill="#ff8100"/>
<rect x="430.81" y="169.15" width="2.00" height="49.13" fill="#ff8300"/>
<rect x="436.31" y="169.15" width="1.00" height="49.13" fill="#ff7500"/>
<rect x="437.31" y="169.15" width="1.00" height="49.13" fill="#ff7700"/>
<rect x="438.31" y="169.15" width="2.00" height="49.13" fill="#ff7e00"/>
<rect x="440.31" y="169.15" width="1.50" height="49.13" fill="#ff7900"/>
<rect x="443.81" y="169.15" width="1.00" height="49.13" fill="#ff8200"/>
<rect x="444.81" y="169.15" width="1.00" height="49.13" fill="#ff8a00"/>
<rect x="447.81" y="169.15" width="1.00" height="49.13" fill="#ff8600"/>
<rect x="451.31" y="169.15" width="1.00" height="49.13" fill="#ff7600"/>
<rect x="454.81" y="169.15" width="2.00" height="49.13" fill="#ff8200"/>
<rect x="457.81" y="169.15" width="2.55" height="49.13" fill="#ffb800"/>
<rect x="460.00" y="169.15" width="14.53" height="49.13" fill="#ff7e00"/>
<rect x="461.66" y="169.15" width="2.50" height="49.13" fill="#ff8600"/>
<rect x="464.16" y="169.15" width="1.00" height="49.13" fill="#ff8300"/>
<rect x="465.16" y="169.15" width="2.50" height="49.13" fill="#ff7000"/>
<rect x="467.66" y="169.15" width="1.50" height="49.13" fill="#ff8100"/>
<rect x="470.16" y="169.15" width="1.50" height="49.13" fill="#ff8200"/>
<rect x="471.66" y="169.15" width="1.00" height="49.13" fill="#ff7600"/>
<rect x="474.18" y="169.15" width="3.35" height="49.13" fill="#ffb800"/>
<rect x="477.18" y="169.15" width="24.32" height="49.13" fill="#ff7e00"/>
<rect x="481.25" y="169.15" width="2.50" height="49.13" fill="#ff7700"/>
<rect x="483.75" y="169.15" width="1.00" height="49.13" fill="#ff8500"/>
<rect x="486.75" y="169.15" width="1.00" height="49.13" fill="#ff7300"/>
<rect x="488.75" y="169.15" width="1.50" height="49.13" fill="#ff7200"/>
<rect x="494.75" y="169.15" width="1.50" height="49.13" fill="#ff7500"/>
<rect x="496.25" y="169.15" width="1.00" height="49.13" fill="#ff7000"/>
<rect x="498.25" y="169.15" width="2.50" height="49.13" fill="#ff7a00"/>
<rect x="501.15" y="169.15" width="3.25" height="49.13" fill="#ffb800"/>
<rect x="504.04" y="169.15" width="13.73" height="49.13" fill="#ff7e00"/>
<rect x="515.36" y="169.15" width="2.07" height="49.13" fill="#ff8000"/>
<rect x="517.43" y="169.15" width="2.65" height="49.13" fill="#ffd400"/>
<rect x="519.72" y="169.15" width="12.93" height="49.13" fill="#ff9800"/>
<rect x="524.55" y="169.15" width="1.00" height="49.13" fill="#ff8e00"/>
<rect x="525.55" y="169.15" width="1.00" height="49.13" fill="#ff9000"/>
<rect x="526.55" y="169.15" width="1.00" height="49.13" fill="#ff9900"/>
<rect x="527.55" y="169.15" width="1.00" height="49.13" fill="#ff9100"/>
<rect x="528.55" y="169.15" width="1.50" height="49.13" fill="#ff9700"/>
<rect x="532.30" y="169.15" width="4.84" height="49.13" fill="#ffb800"/>
<rect x="534.19" y="169.15" width="1.00" height="49.13" fill="#ffb000"/>
<rect x="536.80" y="169.15" width="4.04" height="49.13" fill="#ff7e00"/>
<rect x="538.70" y="169.15" width="1.00" height="49.13" fill="#ff8600"/>
<rect x="540.49" y="169.15" width="78.84" height="49.13" fill="#ff4000"/>
<rect x="541.04" y="169.15" width="1.00" height="49.13" fill="#ff4000"/>
<rect x="542.04" y="169.15" width="2.50" height="49.13" fill="#ff4000"/>
<rect x="545.54" y="169.15" width="1.00" height="49.13" fill="#ff4b00"/>
<rect x="548.54" y="169.15" width="1.50" height="49.13" fill="#ff4100"/>
<rect x="550.04" y="169.15" width="1.50" height="49.13" fill="#ff4d00"/>
<rect x="552.54" y="169.15" width="1.50" height="49.13" fill="#ff4300"/>
<rect x="557.04" y="169.15" width="2.00" height="49.13" fill="#ff4400"/>
<rect x="559.04" y="169.15" width="2.50" height="49.13" fill="#ff4b00"/>
<rect x="566.54" y="169.15" width="1.00" height="49.13" fill="#ff4000"/>
<rect x="571.04" y="169.15" width="1.00" height="49.13" fill="#ff4300"/>
<rect x="572.04" y="169.15" width="1.50" height="49.13" fill="#ff4200"/>
<rect x="573.54" y="169.15" width="1.00" height="49.13" fill="#ff4000"/>
<rect x="574.54" y="169.15" width="1.00" height="49.13" fill="#ff4400"/>
<rect x="577.04" y="169.15" width="1.00" height="49.13" fill="#ff4000"/>
<rect x="584.54" y="169.15" width="1.50" height="49.13" fill="#ff4000"/>
<rect x="590.04" y="169.15" width="1.00" height="49.13" fill="#ff4500"/>
<rect x="596.54" y="169.15" width="1.00" height="49.13" fill="#ff4000"/>
<rect x="597.54" y="169.15" width="1.50" height="49.13" fill="#ff4900"/>
<rect x="599.04" y="169.15" width="1.00" height="49.13" fill="#ff4000"/>
<rect x="603.54" y="169.15" width="1.00" height="49.13" fill="#ff4000"/>
<rect x="605.54" y="169.15" width="1.50" height="49.13" fill="#ff4000"/>
<rect x="612.54" y="169.15" width="1.00" height="49.13" fill="#ff4000"/>
<rect x="616.04" y="169.15" width="2.50" height="49.13" fill="#ff4000"/>
<rect x="618.99" y="169.15" width="2.35" height="49.13" fill="#ff5200"/>
<rect x="620.98" y="169.15" width="28.31" height="49.13" fill="#ff4000"/>
<rect x="628.17" y="169.15" width="1.00" height="49.13" fill="#ff4000"/>
<rect x="630.17" y="169.15" width="2.50" height="49.13" fill="#ff4800"/>
<rect x="636.67" y="169.15" width="1.00" height="49.13" fill="#ff4000"/>
<rect x="643.67" y="169.15" width="1.00" height="49.13" fill="#ff4000"/>
<rect x="644.67" y="169.15" width="2.00" height="49.13" fill="#ff4000"/>
<rect x="647.67" y="169.15" width="1.28" height="49.13" fill="#ff4000"/>
<rect x="648.95" y="169.15" width="2.35" height="49.13" fill="#ff5200"/>
<rect x="650.94" y="169.15" width="31.61" height="49.13" fill="#ff4000"/>
<rect x="652.22" y="169.15" width="1.00" height="49.13" fill="#ff4800"/>
<rect x="653.22" y="169.15" width="1.50" height="49.13" fill="#ff4b00"/>
<rect x="654.72" y="169.15" width="1.50" height="49.13" fill="#ff4800"/>
<rect x="662.72" y="169.15" width="1.00" height="49.13" fill="#ff4000"/>
<rect x="663.72" y="169.15" width="2.50" height="49.13" fill="#ff4200"/>
<rect x="668.22" y="169.15" width="1.00" height="49.13" fill="#ff4000"/>
<rect x="670.22" y="169.15" width="1.50" height="49.13" fill="#ff4c00"/>
<rect x="672.72" y="169.15" width="2.50" height="49.13" fill="#ff4b00"/>
<rect x="675.22" y="169.15" width="1.50" height="49.13" fill="#ff4000"/>
<rect x="676.72" y="169.15" width="1.50" height="49.13" fill="#ff4400"/>
<rect x="678.22" y="169.15" width="1.00" height="49.13" fill="#ff4000"/>
<rect x="389.30" y="217.93" width="1.85" height="49.13" fill="#ffb800"/>
<rect x="390.80" y="217.93" width="7.04" height="49.13" fill="#fff400"/>
<rect x="396.10" y="217.93" width="1.39" height="49.13" fill="#fff716"/>
<rect x="397.49" y="217.93" width="3.35" height="49.13" fill="#ffd400"/>
<rect x="400.48" y="217.93" width="10.04" height="49.13" fill="#fff400"/>
<rect x="402.11" y="217.93" width="2.50" height="49.13" fill="#ffef00"/>
<rect x="406.61" y="217.93" width="2.50" height="49.13" fill="#fff200"/>
<rect x="410.17" y="217.93" width="5.44" height="49.13" fill="#ff7e00"/>
<rect x="412.13" y="217.93" width="2.00" height="49.13" fill="#ff7e00"/>
<rect x="414.13" y="217.93" width="1.13" height="49.13" fill="#ff7c00"/>
<rect x="415.26" y="217.93" width="4.14" height="49.13" fill="#ffd400"/>
<rect x="419.06" y="217.93" width="5.54" height="49.13" fill="#fff400"/>
<rect x="424.25" y="217.93" width="2.65" height="49.13" fill="#ffff50"/>
<rect x="426.55" y="217.93" width="7.74" height="49.13" fill="#fff400"/>
<rect x="433.94" y="217.93" width="4.84" height="49.13" fill="#ffd400"/>
<rect x="435.03" y="217.93" width="1.00" height="49.13" fill="#ffdf00"/>
<rect x="436.03" y="217.93" width="1.00" height="49.13" fill="#ffcc00"/>
<rect x="438.43" y="217.93" width="10.74" height="49.13" fill="#fff400"/>
<rect x="441.29" y="217.93" width="2.50" height="49.13" fill="#ffe700"/>
<rect x="443.79" y="217.93" width="1.00" height="49.13" fill="#ffe900"/>
<rect x="444.79" y="217.93" width="1.50" height="49.13" fill="#ffeb00"/>
<rect x="448.82" y="217.93" width="4.04" height="49.13" fill="#ffd400"/>
<rect x="452.51" y="217.93" width="7.04" height="49.13" fill="#ffff50"/>
<rect x="453.52" y="217.93" width="1.00" height="49.13" fill="#fffb36"/>
<rect x="457.02" y="217.93" width="2.00" height="49.13" fill="#ffff65"/>
<rect x="459.20" y="217.93" width="4.84" height="49.13" fill="#ffffc0"/>
<rect x="460.93" y="217.93" width="1.00" height="49.13" fill="#ffffa5"/>
<rect x="463.70" y="217.93" width="3.35" height="49.13" fill="#ffb800"/>
<rect x="466.69" y="217.93" width="12.23" height="49.13" fill="#fff400"/>
<rect x="469.51" y="217.93" width="2.00" height="49.13" fill="#fff402"/>
<rect x="471.51" y="217.93" width="1.50" height="49.13" fill="#fff505"/>
<rect x="473.01" y="217.93" width="2.00" height="49.13" fill="#ffe800"/>
<rect x="476.01" y="217.93" width="1.00" height="49.13" fill="#fff716"/>
<rect x="478.58" y="217.93" width="6.34" height="49.13" fill="#ffd400"/>
<rect x="480.22" y="217.93" width="1.00" height="49.13" fill="#ffce00"/>
<rect x="481.22" y="217.93" width="2.00" height="49.13" fill="#ffdb00"/>
<rect x="483.22" y="217.93" width="1.00" height="49.13" fill="#ffcf00"/>
<rect x="484.57" y="217.93" width="11.63" height="49.13" fill="#fff400"/>
<rect x="485.80" y="217.93" width="2.00" height="49.13" fill="#fff60e"/>
<rect x="487.80" y="217.93" width="2.50" height="49.13" fill="#fff820"/>
<rect x="490.30" y="217.93" width="2.00" height="49.13" fill="#fff81c"/>
<rect x="492.30" y="217.93" width="2.50" height="49.13" fill="#fff81e"/>
<rect x="495.85" y="217.93" width="5.64" height="49.13" fill="#ffffc0"/>
<rect x="497.13" y="217.93" width="1.50" height="49.13" fill="#ffffc0"/>
<rect x="500.13" y="217.93" width="1.00" height="49.13" fill="#ffffb3"/>
<rect x="501.15" y="217.93" width="1.75" height="49.13" fill="#ffb800"/>
<rect x="502.55" y="217.93" width="4.04" height="49.13" fill="#fff400"/>
<rect x="506.24" y="217.93" width="7.04" height="49.13" fill="#ffff50"/>
<rect x="508.58" y="217.93" width="2.00" height="49.13" fill="#fffc3c"/>
<rect x="512.93" y="217.93" width="4.84" height="49.13" fill="#ffd400"/>
<rect x="517.43" y="217.93" width="7.84" height="49.13" fill="#fff400"/>
<rect x="520.54" y="217.93" width="2.00" height="49.13" fill="#fff403"/>
<rect x="522.54" y="217.93" width="1.00" height="49.13" fill="#fff50b"/>
<rect x="523.54" y="217.93" width="1.00" height="49.13" fill="#fff507"/>
<rect x="524.91" y="217.93" width="3.25" height="49.13" fill="#ffd400"/>
<rect x="527.81" y="217.93" width="3.35" height="49.13" fill="#ffb800"/>
<rect x="530.81" y="217.93" width="10.04" height="49.13" fill="#fff400"/>
<rect x="532.44" y="217.93" width="2.00" height="49.13" fill="#fff506"/>
<rect x="537.94" y="217.93" width="1.00" height="49.13" fill="#fff611"/>
<rect x="538.94" y="217.93" width="1.00" height="49.13" fill="#ffe900"/>
<rect x="540.49" y="217.93" width="8.54" height="49.13" fill="#ff6600"/>
<rect x="541.31" y="217.93" width="1.00" height="49.13" fill="#ff5900"/>
<rect x="542.31" y="217.93" width="1.50" height="49.13" fill="#ff7200"/>
<rect x="543.81" y="217.93" width="1.00" height="49.13" fill="#ff6200"/>
<rect x="548.68" y="217.93" width="3.35" height="49.13" fill="#ff9800"/>
<rect x="551.68" y="217.93" width="4.04" height="49.13" fill="#ffd400"/>
<rect x="553.13" y="217.93" width="1.00" height="49.13" fill="#ffde00"/>
<rect x="554.13" y="217.93" width="1.00" height="49.13" fill="#ffda00"/>
<rect x="555.37" y="217.93" width="5.54" height="49.13" fill="#ff9800"/>
<rect x="556.20" y="217.93" width="2.00" height="49.13" fill="#ff9300"/>
<rect x="558.20" y="217.93" width="1.00" height="49.13" fill="#ff9c00"/>
<rect x="559.20" y="217.93" width="1.37" height="49.13" fill="#ffa200"/>
<rect x="560.57" y="217.93" width="9.34" height="49.13" fill="#ff6600"/>
<rect x="561.11" y="217.93" width="2.50" height="49.13" fill="#ff6700"/>
<rect x="565.61" y="217.93" width="2.00" height="49.13" fill="#ff6a00"/>
<rect x="567.61" y="217.93" width="1.00" height="49.13" fill="#ff6a00"/>
<rect x="569.55" y="217.93" width="4.84" height="49.13" fill="#ff7e00"/>
<rect x="571.74" y="217.93" width="1.50" height="49.13" fill="#ff8000"/>
<rect x="574.05" y="217.93" width="4.74" height="49.13" fill="#ffb800"/>
<rect x="578.44" y="217.93" width="10.94" height="49.13" fill="#ff6600"/>
<rect x="579.55" y="217.93" width="1.50" height="49.13" fill="#ff6300"/>
<rect x="583.05" y="217.93" width="1.00" height="49.13" fill="#ff6500"/>
<rect x="586.05" y="217.93" width="1.50" height="49.13" fill="#ff6e00"/>
<rect x="587.55" y="217.93" width="1.48" height="49.13" fill="#ff5f00"/>
<rect x="589.03" y="217.93" width="13.73" height="49.13" fill="#ff7e00"/>
<rect x="590.52" y="217.93" width="2.50" height="49.13" fill="#ff8500"/>
<rect x="600.52" y="217.93" width="1.00" height="49.13" fill="#ff7c00"/>
<rect x="602.41" y="217.93" width="4.04" height="49.13" fill="#ffd400"/>
<rect x="603.51" y="217.93" width="2.00" height="49.13" fill="#ffd100"/>
<rect x="606.10" y="217.93" width="13.03" height="49.13" fill="#ff7e00"/>
<rect x="607.76" y="217.93" width="1.00" height="49.13" fill="#ff8000"/>
<rect x="611.26" y="217.93" width="1.00" height="49.13" fill="#ff7600"/>
<rect x="612.26" y="217.93" width="1.00" height="49.13" fill="#ff7100"/>
<rect x="613.26" y="217.93" width="1.00" height="49.13" fill="#ff7e00"/>
<rect x="614.26" y="217.93" width="2.50" height="49.13" fill="#ff8900"/>
<rect x="618.79" y="217.93" width="1.85" height="49.13" fill="#ffb800"/>
<rect x="620.28" y="217.93" width="9.24" height="49.13" fill="#ff7e00"/>
<rect x="621.15" y="217.93" width="2.50" height="49.13" fill="#ff8400"/>
<rect x="623.65" y="217.93" width="2.00" height="49.13" fill="#ff7e00"/>
<rect x="629.17" y="217.93" width="3.35" height="49.13" fill="#ffb800"/>
<rect x="632.17" y="217.93" width="6.34" height="49.13" fill="#ff7e00"/>
<rect x="632.94" y="217.93" width="2.50" height="49.13" fill="#ff7a00"/>
<rect x="638.16" y="217.93" width="7.74" height="49.13" fill="#ff9800"/>
<rect x="638.69" y="217.93" width="2.00" height="49.13" fill="#ff9500"/>
<rect x="643.19" y="217.93" width="1.00" height="49.13" fill="#ffa100"/>
<rect x="645.55" y="217.93" width="10.74" height="49.13" fill="#ff7e00"/>
<rect x="646.85" y="217.93" width="1.00" height="49.13" fill="#ff7c00"/>
<rect x="649.35" y="217.93" width="2.00" height="49.13" fill="#ff7900"/>
<rect x="655.94" y="217.93" width="7.84" height="49.13" fill="#ffb800"/>
<rect x="659.19" y="217.93" width="1.00" height="49.13" fill="#ffc000"/>
<rect x="662.19" y="217.93" width="1.23" height="49.13" fill="#ffbf00"/>
<rect x="663.43" y="217.93" width="19.12" height="49.13" fill="#ff7e00"/>
<rect x="664.23" y="217.93" width="1.00" height="49.13" fill="#ff8100"/>
<rect x="666.73" y="217.93" width="1.00" height="49.13" fill="#ff8100"/>
<rect x="667.73" y="217.93" width="1.00" height="49.13" fill="#ff8500"/>
<rect x="668.73" y="217.93" width="1.00" height="49.13" fill="#ff8700"/>
<rect x="671.23" y="217.93" width="1.00" height="49.13" fill="#ff8500"/>
<rect x="672.23" y="217.93" width="1.50" height="49.13" fill="#ff7d00"/>
<rect x="674.73" y="217.93" width="2.50" height="49.13" fill="#ff8600"/>
<rect x="679.23" y="217.93" width="1.50" height="49.13" fill="#ff8900"/>
<rect x="680.73" y="217.93" width="1.47" height="49.13" fill="#ff7800"/>
<rect x="389.30" y="266.72" width="1.85" height="49.13" fill="#ffd400"/>
<rect x="390.80" y="266.72" width="7.84" height="49.13" fill="#ffff50"/>
<rect x="392.78" y="266.72" width="1.00" height="49.13" fill="#fffd45"/>
<rect x="393.78" y="266.72" width="2.00" height="49.13" fill="#ffff62"/>
<rect x="395.78" y="266.72" width="1.50" height="49.13" fill="#ffff6a"/>
<rect x="397.28" y="266.72" width="1.01" height="49.13" fill="#ffff61"/>
<rect x="398.29" y="266.72" width="7.74" height="49.13" fill="#ffffc0"/>
<rect x="402.76" y="266.72" width="1.50" height="49.13" fill="#ffffa8"/>
<rect x="405.68" y="266.72" width="4.84" height="49.13" fill="#fff400"/>
<rect x="410.17" y="266.72" width="4.74" height="49.13" fill="#ff9800"/>
<rect x="411.61" y="266.72" width="1.50" height="49.13" fill="#ffa500"/>
<rect x="413.11" y="266.72" width="1.45" height="49.13" fill="#ff8d00"/>
<rect x="414.57" y="266.72" width="1.85" height="49.13" fill="#fff400"/>
<rect x="416.06" y="266.72" width="9.34" height="49.13" fill="#ffffc0"/>
<rect x="417.16" y="266.72" width="1.00" height="49.13" fill="#ffffc0"/>
<rect x="418.16" y="266.72" width="2.00" height="49.13" fill="#ffffc0"/>
<rect x="425.05" y="266.72" width="6.24" height="49.13" fill="#fff400"/>
<rect x="428.12" y="266.72" width="1.00" height="49.13" fill="#fff300"/>
<rect x="430.94" y="266.72" width="3.35" height="49.13" fill="#ffff50"/>
<rect x="433.94" y="266.72" width="18.92" height="49.13" fill="#ffffc0"/>
<rect x="443.31" y="266.72" width="1.00" height="49.13" fill="#ffffc0"/>
<rect x="444.31" y="266.72" width="2.00" height="49.13" fill="#ffffc0"/>
<rect x="448.31" y="266.72" width="1.00" height="49.13" fill="#ffff93"/>
<rect x="449.31" y="266.72" width="1.50" height="49.13" fill="#ffff8f"/>
<rect x="452.51" y="266.72" width="11.53" height="49.13" fill="#fff400"/>
<rect x="453.80" y="266.72" width="2.00" height="49.13" fill="#fff713"/>
<rect x="455.80" y="266.72" width="1.00" height="49.13" fill="#fff60d"/>
<rect x="456.80" y="266.72" width="1.50" height="49.13" fill="#ffe600"/>
<rect x="458.30" y="266.72" width="1.50" height="49.13" fill="#fff508"/>
<rect x="459.80" y="266.72" width="2.50" height="49.13" fill="#ffe900"/>
<rect x="462.30" y="266.72" width="1.40" height="49.13" fill="#fff81b"/>
<rect x="463.70" y="266.72" width="9.34" height="49.13" fill="#ffffc0"/>
<rect x="465.42" y="266.72" width="2.00" height="49.13" fill="#ffffba"/>
<rect x="467.42" y="266.72" width="2.50" height="49.13" fill="#ffffc0"/>
<rect x="469.92" y="266.72" width="1.50" height="49.13" fill="#ffffc0"/>
<rect x="471.42" y="266.72" width="1.26" height="49.13" fill="#ffff93"/>
<rect x="472.69" y="266.72" width="6.24" height="49.13" fill="#ffff50"/>
<rect x="474.16" y="266.72" width="1.50" height="49.13" fill="#ffff65"/>
<rect x="478.58" y="266.72" width="10.94" height="49.13" fill="#ffffc0"/>
<rect x="480.28" y="266.72" width="1.00" height="49.13" fill="#ffffc0"/>
<rect x="481.28" y="266.72" width="1.00" height="49.13" fill="#ffffb7"/>
<rect x="482.28" y="266.72" width="2.50" height="49.13" fill="#ffffc0"/>
<rect x="486.28" y="266.72" width="2.00" height="49.13" fill="#ffffc0"/>
<rect x="489.16" y="266.72" width="9.34" height="49.13" fill="#fff400"/>
<rect x="490.86" y="266.72" width="1.50" height="49.13" fill="#fff81b"/>
<rect x="492.36" y="266.72" width="2.50" height="49.13" fill="#fff81c"/>
<rect x="494.86" y="266.72" width="2.50" height="49.13" fill="#fff612"/>
<rect x="498.15" y="266.72" width="4.74" height="49.13" fill="#ffd400"/>
<rect x="500.27" y="266.72" width="2.28" height="49.13" fill="#ffcd00"/>
<rect x="502.55" y="266.72" width="9.34" height="49.13" fill="#fff400"/>
<rect x="506.85" y="266.72" width="2.00" height="49.13" fill="#fff000"/>
<rect x="508.85" y="266.72" width="1.50" height="49.13" fill="#fff402"/>
<rect x="510.35" y="266.72" width="1.19" height="49.13" fill="#fff611"/>
<rect x="511.53" y="266.72" width="6.24" height="49.13" fill="#ffffc0"/>
<rect x="512.33" y="266.72" width="2.50" height="49.13" fill="#ffffc0"/>
<rect x="517.43" y="266.72" width="7.84" height="49.13" fill="#fff400"/>
<rect x="519.86" y="266.72" width="2.50" height="49.13" fill="#fff506"/>
<rect x="524.91" y="266.72" width="1.85" height="49.13" fill="#ffb800"/>
<rect x="526.41" y="266.72" width="7.74" height="49.13" fill="#ffffc0"/>
<rect x="528.06" y="266.72" width="2.00" height="49.13" fill="#ffffad"/>
<rect x="530.06" y="266.72" width="1.50" height="49.13" fill="#ffffc0"/>
<rect x="531.56" y="266.72" width="1.50" height="49.13" fill="#ffff8f"/>
<rect x="533.80" y="266.72" width="7.04" height="49.13" fill="#ffff50"/>
<rect x="534.37" y="266.72" width="1.50" height="49.13" fill="#ffff72"/>
<rect x="539.37" y="266.72" width="1.12" height="49.13" fill="#ffff6a"/>
<rect x="540.49" y="266.72" width="8.54" height="49.13" fill="#ff7e00"/>
<rect x="541.86" y="266.72" width="2.50" height="49.13" fill="#ff7c00"/>
<rect x="544.36" y="266.72" width="1.00" height="49.13" fill="#ff8600"/>
<rect x="548.68" y="266.72" width="3.35" height="49.13" fill="#ff6600"/>
<rect x="551.68" y="266.72" width="6.34" height="49.13" fill="#ff7e00"/>
<rect x="554.57" y="266.72" width="2.00" height="49.13" fill="#ff7900"/>
<rect x="556.57" y="266.72" width="1.10" height="49.13" fill="#ff7f00"/>
<rect x="557.67" y="266.72" width="4.74" height="49.13" fill="#ff9800"/>
<rect x="559.83" y="266.72" width="1.00" height="49.13" fill="#ff9e00"/>
<rect x="560.83" y="266.72" width="1.00" height="49.13" fill="#ff9100"/>
<rect x="562.06" y="266.72" width="6.34" height="49.13" fill="#ffb800"/>
<rect x="564.48" y="266.72" width="1.50" height="49.13" fill="#ffb700"/>
<rect x="565.98" y="266.72" width="2.08" height="49.13" fill="#ffaa00"/>
<rect x="568.06" y="266.72" width="6.34" height="49.13" fill="#ff9800"/>
<rect x="569.65" y="266.72" width="1.00" height="49.13" fill="#ffa400"/>
<rect x="570.65" y="266.72" width="1.00" height="49.13" fill="#ff9800"/>
<rect x="574.05" y="266.72" width="6.34" height="49.13" fill="#ff6600"/>
<rect x="576.09" y="266.72" width="2.00" height="49.13" fill="#ff6400"/>
<rect x="578.09" y="266.72" width="1.95" height="49.13" fill="#ff6300"/>
<rect x="580.04" y="266.72" width="4.74" height="49.13" fill="#ff9800"/>
<rect x="581.08" y="266.72" width="1.00" height="49.13" fill="#ff9900"/>
<rect x="583.08" y="266.72" width="1.35" height="49.13" fill="#ff9b00"/>
<rect x="584.43" y="266.72" width="4.94" height="49.13" fill="#ff7e00"/>
<rect x="585.00" y="266.72" width="1.00" height="49.13" fill="#ff8000"/>
<rect x="586.00" y="266.72" width="2.00" height="49.13" fill="#ff8400"/>
<rect x="589.03" y="266.72" width="7.04" height="49.13" fill="#ffd400"/>
<rect x="592.01" y="266.72" width="1.50" height="49.13" fill="#ffcc00"/>
<rect x="595.72" y="266.72" width="11.53" height="49.13" fill="#ff9800"/>
<rect x="601.50" y="266.72" width="2.50" height="49.13" fill="#ff9400"/>
<rect x="604.00" y="266.72" width="1.50" height="49.13" fill="#ff9400"/>
<rect x="606.90" y="266.72" width="7.74" height="49.13" fill="#ff7e00"/>
<rect x="608.39" y="266.72" width="1.50" height="49.13" fill="#ff8100"/>
<rect x="609.89" y="266.72" width="2.00" height="49.13" fill="#ff7c00"/>
<rect x="611.89" y="266.72" width="1.50" height="49.13" fill="#ff8800"/>
<rect x="614.29" y="266.72" width="9.34" height="49.13" fill="#ffd400"/>
<rect x="616.90" y="266.72" width="2.50" height="49.13" fill="#ffcc00"/>
<rect x="621.90" y="266.72" width="1.38" height="49.13" fill="#ffc700"/>
<rect x="623.28" y="266.72" width="10.74" height="49.13" fill="#ffb800"/>
<rect x="624.09" y="266.72" width="1.00" height="49.13" fill="#ffaa00"/>
<rect x="625.09" y="266.72" width="2.50" height="49.13" fill="#ffac00"/>
<rect x="628.59" y="266.72" width="1.50" height="49.13" fill="#ffb500"/>
<rect x="631.09" y="266.72" width="1.00" height="49.13" fill="#ffb500"/>
<rect x="633.67" y="266.72" width="6.34" height="49.13" fill="#ff7e00"/>
<rect x="639.66" y="266.72" width="6.24" height="49.13" fill="#ffb800"/>
<rect x="641.74" y="266.72" width="1.00" height="49.13" fill="#ffb800"/>
<rect x="642.74" y="266.72" width="1.00" height="49.13" fill="#ffb100"/>
<rect x="645.55" y="266.72" width="7.74" height="49.13" fill="#ffd400"/>
<rect x="649.27" y="266.72" width="1.00" height="49.13" fill="#ffcf00"/>
<rect x="650.27" y="266.72" width="1.00" height="49.13" fill="#ffcf00"/>
<rect x="652.94" y="266.72" width="6.34" height="49.13" fill="#ff9800"/>
<rect x="653.82" y="266.72" width="2.50" height="49.13" fill="#ffa300"/>
<rect x="658.93" y="266.72" width="6.34" height="49.13" fill="#ffb800"/>
<rect x="660.38" y="266.72" width="1.00" height="49.13" fill="#ffb000"/>
<rect x="663.38" y="266.72" width="1.00" height="49.13" fill="#ffae00"/>
<rect x="664.92" y="266.72" width="3.35" height="49.13" fill="#ffd400"/>
<rect x="667.92" y="266.72" width="14.63" height="49.13" fill="#ff9800"/>
<rect x="670.63" y="266.72" width="1.50" height="49.13" fill="#ff9300"/>
<rect x="672.13" y="266.72" width="2.50" height="49.13" fill="#ffa200"/>
<rect x="674.63" y="266.72" width="2.50" height="49.13" fill="#ffa500"/>
<rect x="677.13" y="266.72" width="1.50" height="49.13" fill="#ff9400"/>
<rect x="678.63" y="266.72" width="2.50" height="49.13" fill="#ff9000"/>
<rect x="681.13" y="266.72" width="1.07" height="49.13" fill="#ff9a00"/>
</g>
<g font-family="Liberation Sans, sans-serif" fill="#111">
 <text x="14.6" y="15.4" font-size="17.5">A</text>
 <text x="354.6" y="15.2" font-size="17.5">B</text>
 <text x="15.8" y="352.6" font-size="17.5">C</text>
 <text x="354.6" y="351.9" font-size="17.5">D</text>
 <g font-size="14.3">
  <text x="20" y="45.6" transform="translate(20,0) scale(1.06,1) translate(-20,0)">IN</text>
  <text x="20" y="95.9" transform="translate(20,0) scale(1.06,1) translate(-20,0)">IN</text>
  <text x="20" y="146.3" transform="translate(20,0) scale(1.06,1) translate(-20,0)">IN</text>
  <text x="19.4" y="197.1" transform="translate(19.4,0) scale(1.03,1) translate(-19.4,0)">CT</text>
  <text x="19.4" y="247.1" transform="translate(19.4,0) scale(1.03,1) translate(-19.4,0)">CT</text>
  <text x="19.4" y="297.4" transform="translate(19.4,0) scale(1.03,1) translate(-19.4,0)">CT</text>
 </g>
</g>
<g clip-path="url(#fclip)"><g filter="url(#dblur)"><path d="M135.5,616.5 126.5,617.3 50.5,617.4 49.6,616.5 49.6,587.5 49.7,546.5 50.5,533.1 78.9,502.5 89.5,493.7 97.5,485.2 105.7,478.5 111.8,468.5 117.5,463.5 123.5,461.6 135.5,461.0 141.5,458.8 187.5,435.8 207.6,426.5 221.5,418.4 230.1,414.5 232.5,412.7 237.5,407.2 241.5,404.4 247.5,402.5 257.5,402.0 268.5,394.9 281.5,392.2 294.5,383.7 305.5,380.0 311.5,374.2 318.5,373.7 336.5,373.8 337.2,374.5 337.2,385.5 336.9,389.5 336.0,391.5 323.5,404.8 315.9,410.5 312.9,413.5 310.3,417.5 307.1,426.5 304.3,430.5 300.5,433.7 292.5,438.0 289.5,441.1 269.5,473.1 254.5,499.5 245.5,510.5 228.5,534.5 219.4,549.5 204.7,563.5 194.5,570.8 177.5,582.2 145.5,601.6 142.5,604.9 138.5,612.5 135.5,616.5Z" fill="#fdfeff"/>
<path d="M130.5,616.6 115.9,616.5 112.5,614.8 109.5,614.2 100.5,616.6 50.5,617.1 49.9,616.5 49.7,587.5 50.5,541.5 60.5,532.5 73.2,519.5 79.8,508.5 82.5,505.1 86.5,501.9 93.7,497.5 100.5,487.9 109.4,481.5 110.7,479.5 113.5,471.5 115.8,468.5 118.5,466.4 121.5,465.1 125.5,464.6 129.5,465.2 137.5,467.6 142.5,466.5 175.0,449.5 190.5,439.7 204.5,433.6 214.5,427.5 223.5,420.9 233.5,416.5 239.1,409.5 243.5,406.3 248.5,405.1 257.5,405.8 260.3,404.5 265.8,399.5 269.5,397.4 282.5,395.1 294.5,386.4 307.5,381.8 313.9,374.5 327.5,373.8 336.5,374.4 336.5,385.4 334.2,390.5 321.5,403.4 314.5,408.3 311.4,411.5 307.9,416.5 305.2,424.5 302.5,428.6 297.5,432.0 288.5,434.7 284.5,438.5 265.9,466.5 261.1,478.5 255.8,487.5 251.4,497.5 248.5,501.1 241.5,507.5 233.0,520.5 222.8,532.5 219.1,542.5 216.5,546.7 211.5,551.1 191.0,563.5 180.5,572.3 166.5,579.6 153.5,588.9 142.7,595.5 139.8,599.5 135.7,611.5 132.6,615.5 130.5,616.6Z" fill="#fafdff"/>
<path d="M90.5,616.5 50.1,616.5 49.9,580.5 50.5,547.3 54.5,542.2 62.8,536.5 69.5,529.4 77.6,522.5 79.3,519.5 81.7,511.5 84.5,507.3 88.5,504.2 96.5,500.3 98.1,498.5 100.9,492.5 103.2,489.5 113.0,483.5 114.0,481.5 115.2,474.5 117.6,470.5 121.5,468.0 126.5,467.6 131.4,469.5 137.5,474.3 139.5,474.5 141.5,473.8 149.5,469.2 160.7,464.5 169.5,457.8 178.7,452.5 189.5,443.8 194.5,441.1 205.5,437.0 215.5,430.4 224.5,423.1 235.5,418.8 237.5,416.8 240.7,411.5 244.5,408.6 248.5,407.7 256.5,409.2 259.5,408.6 269.5,400.1 273.5,398.8 279.5,398.5 282.5,397.7 295.5,388.3 308.4,383.5 316.9,374.5 327.5,374.1 334.9,374.5 334.4,377.5 334.6,384.5 333.6,387.5 331.6,390.5 324.6,396.5 320.1,401.5 313.5,406.2 310.5,409.3 305.8,415.5 303.0,423.5 300.5,427.1 296.5,429.5 288.5,431.1 284.5,434.1 263.5,461.2 260.4,466.5 257.9,477.5 252.4,486.5 249.2,495.5 246.5,498.8 239.5,504.1 230.7,518.5 218.6,531.5 216.2,541.5 212.7,546.5 207.5,549.9 187.5,559.2 178.5,568.8 174.5,571.0 163.5,575.2 151.7,585.5 139.9,592.5 137.1,596.5 133.9,609.5 132.1,612.5 129.5,614.7 126.5,616.0 122.5,616.1 118.5,614.6 112.5,610.6 108.5,610.2 101.5,611.4 90.5,616.5Z" fill="#f8fcff"/>
<path d="M73.5,616.5 50.4,616.5 50.2,573.5 50.5,558.6 51.7,551.5 53.4,547.5 55.9,544.5 65.5,538.6 71.7,531.5 80.9,524.5 82.5,521.5 84.2,512.5 86.9,508.5 90.5,505.9 99.5,502.2 101.1,500.5 103.2,494.5 105.3,491.5 108.3,489.5 114.5,487.1 116.4,485.5 117.6,482.5 118.0,475.5 119.7,472.5 123.5,470.5 127.5,471.0 129.8,472.5 131.5,474.5 134.5,481.2 136.5,482.2 138.5,481.9 149.5,473.3 163.1,468.5 170.5,461.0 180.5,455.1 191.5,445.4 196.5,442.9 206.5,439.8 217.5,432.1 223.4,426.5 226.5,424.4 238.5,420.5 242.5,413.8 245.0,411.5 249.5,410.5 255.5,412.6 258.5,412.5 261.7,410.5 270.5,402.4 273.5,401.3 279.5,400.8 282.5,399.9 295.5,390.4 308.5,385.3 312.2,382.5 317.5,376.5 320.5,374.6 332.9,374.5 332.5,384.4 330.5,388.6 323.0,394.5 318.5,399.5 311.5,405.2 304.0,414.5 300.6,422.5 298.5,425.2 295.5,426.9 288.5,428.4 283.5,432.4 259.2,462.5 256.6,467.5 255.1,476.5 253.5,479.5 249.5,484.6 246.5,494.4 244.5,496.7 237.5,501.3 231.7,512.5 227.6,518.5 223.0,523.5 214.9,530.5 214.3,532.5 213.8,539.5 212.5,542.5 210.9,544.5 204.5,548.4 184.3,556.5 182.2,558.5 178.5,564.4 176.5,566.2 173.5,567.9 165.5,570.2 161.5,572.2 150.5,583.0 137.5,590.4 134.5,594.8 131.5,608.5 129.5,611.4 127.5,612.8 124.5,613.5 121.5,613.0 113.5,607.4 103.5,607.4 99.5,608.2 89.5,613.3 73.5,616.5Z" fill="#f4f9fe"/>
<path d="M61.5,613.6 55.5,613.7 50.5,613.1 50.5,568.9 53.6,562.5 53.7,554.5 54.6,550.5 57.5,546.4 66.5,541.5 73.5,533.3 84.2,525.5 85.6,522.5 86.5,513.8 89.4,509.5 92.5,507.6 100.5,505.0 103.3,503.5 104.9,501.5 106.2,496.5 107.5,494.3 110.1,492.5 116.5,490.4 121.0,486.5 123.0,483.5 122.0,478.5 122.3,476.5 123.1,475.5 125.5,475.2 127.0,476.5 127.5,478.5 127.0,482.5 129.6,485.5 134.5,487.7 138.5,487.3 141.5,485.3 147.5,478.5 151.4,475.5 155.5,473.9 162.5,472.8 165.2,471.5 172.5,462.6 182.5,456.9 188.6,450.5 192.5,447.4 197.5,445.0 207.5,442.6 213.4,437.5 219.5,433.6 224.5,428.5 227.5,426.3 231.5,424.9 238.5,423.9 241.5,422.5 246.5,415.1 249.5,414.5 254.5,416.7 257.5,416.4 261.8,413.5 271.5,404.8 282.5,401.9 296.5,391.8 310.5,385.9 320.5,376.6 326.5,374.8 328.5,374.7 330.1,375.5 330.6,377.5 330.5,382.5 329.8,385.5 328.5,387.5 320.5,392.9 311.5,402.2 301.6,414.5 296.7,422.5 288.5,426.0 283.5,430.1 256.7,462.5 253.9,467.5 251.7,476.5 245.1,483.5 244.4,490.5 243.5,492.6 241.7,494.5 237.5,496.7 235.3,498.5 230.0,510.5 224.5,518.8 219.5,523.5 213.0,527.5 210.9,529.5 210.3,531.5 210.8,538.5 209.6,541.5 207.7,543.5 193.5,550.6 180.5,554.4 178.7,556.5 176.4,561.5 174.5,563.6 171.5,565.1 164.5,567.1 159.8,569.5 157.3,571.5 151.8,578.5 148.5,581.5 135.1,588.5 133.2,590.5 131.7,593.5 129.5,605.7 128.5,607.7 126.5,609.6 124.5,610.1 122.5,609.7 115.5,604.5 100.5,604.4 97.5,605.3 92.5,608.6 88.5,610.3 76.5,611.0 61.5,613.6Z" fill="#edf4fc"/>
<path d="M68.5,607.5 57.5,607.2 53.5,606.1 50.5,604.3 50.5,575.7 56.9,564.5 57.3,561.5 56.4,554.5 57.5,550.5 60.5,547.4 68.4,543.5 75.5,534.7 86.5,527.2 88.4,523.5 88.8,515.5 91.1,511.5 94.5,509.4 104.7,506.5 112.0,502.5 114.6,500.5 120.9,492.5 123.5,490.5 127.5,489.9 136.5,491.5 140.5,490.4 143.5,487.7 149.5,480.4 152.5,478.0 155.5,476.7 163.5,475.6 166.5,474.5 168.5,472.6 171.4,467.5 173.9,464.5 184.5,458.7 189.8,452.5 193.5,449.4 198.5,447.2 206.5,446.6 208.5,445.8 214.5,439.8 221.6,435.5 225.9,430.5 228.5,428.5 232.5,427.1 241.5,426.1 248.5,421.9 257.5,419.2 272.5,407.2 282.5,403.8 296.5,393.6 311.5,387.3 321.5,378.1 325.5,376.9 327.6,377.5 328.4,379.5 328.3,381.5 326.5,385.7 317.7,391.5 305.3,407.5 295.5,419.0 287.5,424.5 282.5,429.1 254.6,462.5 251.5,467.5 248.5,474.8 241.4,480.5 239.0,483.5 236.9,488.5 232.5,495.1 228.4,507.5 224.1,515.5 218.4,521.5 208.5,526.2 206.1,528.5 205.2,531.5 206.7,537.5 206.2,539.5 204.6,541.5 198.3,545.5 192.0,548.5 178.5,550.8 174.5,552.5 173.1,554.5 171.2,559.5 164.5,562.6 156.4,567.5 154.5,569.5 150.5,575.9 147.5,579.0 143.5,581.6 134.5,585.1 131.2,587.5 127.8,592.5 126.0,600.5 124.5,603.0 123.5,603.1 118.5,600.4 108.5,602.2 98.5,600.7 96.5,601.4 90.5,606.1 87.5,607.2 76.5,606.9 68.5,607.5Z" fill="#e6f0fa"/>
<path d="M320.5,385.5 319.4,385.5 319.0,384.5 320.1,382.5 322.5,380.5 324.3,380.5 324.8,381.5 324.0,383.5 320.5,385.5ZM84.5,603.5 67.5,603.3 61.5,602.1 57.5,600.3 54.5,597.9 52.4,594.5 51.1,589.5 51.2,584.5 53.7,575.5 60.9,564.5 61.2,561.5 59.7,555.5 60.5,551.8 62.5,549.8 69.5,546.3 75.5,538.2 78.3,535.5 89.2,528.5 91.2,524.5 91.7,516.5 93.5,513.4 96.9,511.5 117.4,505.5 119.6,503.5 123.5,497.3 126.5,495.0 136.5,494.9 141.1,493.5 144.5,490.7 150.5,483.3 153.5,480.6 157.5,479.0 165.5,478.0 168.5,476.5 170.5,474.5 175.5,466.4 178.5,464.3 186.5,460.9 191.5,454.4 194.9,451.5 199.5,449.8 206.5,450.1 209.5,449.2 216.5,441.8 224.5,437.5 228.2,432.5 230.5,430.8 241.5,428.9 255.5,422.4 260.4,419.5 272.5,410.1 283.5,405.1 297.5,394.9 307.5,391.5 311.5,390.6 312.5,391.0 312.6,392.5 311.7,394.5 303.3,407.5 294.5,416.5 286.5,423.1 281.5,428.2 253.6,461.5 245.5,473.3 238.5,479.8 233.5,485.9 229.5,492.5 226.1,501.5 223.6,510.5 220.5,515.9 215.5,520.2 205.5,523.5 201.1,527.5 199.4,531.5 200.1,538.5 198.1,541.5 194.5,544.2 190.5,546.0 174.5,547.4 167.6,550.5 164.0,553.5 158.5,559.9 151.9,564.5 150.6,566.5 148.0,573.5 144.5,577.2 140.5,579.3 127.5,583.7 121.0,584.5 118.9,585.5 117.8,587.5 116.4,594.5 115.0,596.5 112.5,598.3 109.5,599.3 106.5,599.3 99.5,596.2 97.5,596.0 94.5,597.3 88.8,602.5 84.5,603.5Z" fill="#dfecf7"/>
<path d="M81.5,599.6 70.5,600.1 65.5,598.9 60.4,596.5 57.5,594.0 55.3,590.5 54.3,586.5 54.6,581.5 57.2,574.5 63.3,567.5 65.2,564.5 65.8,561.5 65.7,554.5 71.5,548.8 79.1,538.5 90.5,531.5 92.7,529.5 94.1,526.5 95.1,518.5 96.5,516.0 100.5,513.9 118.5,509.0 121.5,507.0 126.5,501.4 128.5,500.0 137.5,498.1 141.5,496.4 145.3,493.5 154.7,483.5 157.5,482.1 166.5,480.3 170.5,478.0 173.0,475.5 177.5,468.4 180.5,466.5 188.5,463.5 190.6,461.5 194.0,456.5 196.3,454.5 199.5,453.5 206.5,453.3 209.5,452.2 212.5,450.2 218.3,444.5 226.2,440.5 232.8,434.5 241.5,431.4 258.5,422.6 274.2,411.5 284.5,406.4 297.5,396.8 303.5,394.8 305.5,394.8 306.7,395.5 306.2,399.5 301.9,406.5 281.5,426.1 244.5,471.3 230.5,486.5 218.2,503.5 217.7,505.5 218.3,510.5 216.6,514.5 213.5,516.7 207.5,517.6 204.5,519.0 195.7,527.5 193.5,531.5 192.8,537.5 191.5,539.9 188.5,541.3 179.5,542.2 168.5,546.5 146.3,562.5 132.5,574.8 128.9,576.5 120.4,578.5 115.5,580.9 112.0,584.5 111.5,586.5 111.7,592.5 109.5,595.0 106.5,595.0 101.5,591.2 98.5,590.6 94.5,592.1 86.5,598.3 81.5,599.6Z" fill="#d8e7f5"/>
<path d="M79.5,596.5 74.5,597.3 70.5,596.9 66.5,595.6 62.5,593.4 59.5,590.6 57.9,587.5 57.3,584.5 57.6,580.5 59.9,575.5 68.2,566.5 73.0,553.5 79.5,543.7 83.5,539.9 93.5,534.3 96.4,531.5 97.6,528.5 98.6,522.5 100.5,519.1 108.5,515.2 118.5,513.0 121.5,511.5 129.5,505.2 143.5,497.9 156.5,486.3 166.5,482.7 170.6,480.5 174.3,477.5 180.5,470.5 190.5,465.7 198.5,458.7 210.5,453.8 219.5,446.7 227.1,442.5 234.5,437.2 259.5,423.7 275.5,413.1 284.5,408.8 296.5,399.8 300.5,398.2 302.5,398.8 302.5,401.5 299.3,406.5 288.5,416.2 281.5,423.8 244.0,469.5 231.0,483.5 209.5,509.5 186.5,532.2 127.5,571.5 114.6,577.5 104.5,583.5 94.5,587.4 85.5,594.1 79.5,596.5Z" fill="#d1e2f3"/>
<path d="M77.5,593.6 74.5,594.0 71.1,593.5 67.5,592.0 63.8,589.5 62.1,587.5 61.0,584.5 61.5,579.5 63.5,576.5 70.6,569.5 80.0,552.5 100.1,534.5 101.7,531.5 103.3,524.5 104.7,522.5 108.5,520.2 117.5,517.6 121.5,515.6 130.5,508.8 144.5,499.7 156.5,489.9 170.8,482.5 182.5,472.9 191.7,467.5 200.5,461.0 210.5,455.5 220.5,448.2 236.5,438.1 260.5,424.8 276.5,415.2 281.5,413.3 285.5,413.1 285.4,414.5 283.1,418.5 269.4,436.5 243.5,468.1 206.8,508.5 195.3,520.5 184.5,530.3 174.5,537.7 152.5,552.2 127.5,567.8 105.5,578.8 92.5,584.0 82.5,591.5 77.5,593.6Z" fill="#cadef0"/>
<path d="M77.5,588.9 73.5,589.1 70.3,587.5 67.5,584.0 67.7,580.5 86.2,555.5 103.1,536.5 110.0,526.5 121.5,519.3 154.5,494.1 171.5,484.0 184.5,474.1 222.5,448.6 251.5,431.1 270.5,421.5 274.5,420.0 276.5,420.2 276.7,421.5 275.4,424.5 267.6,436.5 257.6,449.5 243.4,466.5 220.5,491.7 195.5,517.7 182.5,529.3 152.5,549.9 127.5,564.9 106.5,574.9 88.5,580.8 85.5,582.7 80.1,587.5 77.5,588.9Z" fill="#c2d9ee"/>
<path d="M98.5,573.7 91.5,574.1 86.5,573.0 85.5,572.1 85.0,570.5 85.9,566.5 89.6,558.5 94.9,550.5 114.1,528.5 131.5,514.1 154.5,496.4 170.5,486.4 200.5,464.7 222.5,449.9 251.5,432.7 263.5,427.5 266.5,426.5 268.8,426.5 269.6,427.5 269.2,429.5 265.5,436.5 258.5,446.5 248.8,458.5 220.5,490.0 191.5,519.4 181.5,527.9 171.5,535.2 140.5,555.1 116.5,567.7 106.5,571.6 98.5,573.7Z" fill="#b7d5ea"/>
<path d="M104.5,568.6 97.5,568.8 95.5,568.0 93.9,566.5 93.2,562.5 95.2,556.5 101.0,547.5 111.5,535.1 129.5,518.4 155.5,497.8 168.5,489.4 200.5,466.1 222.5,451.2 238.5,441.4 251.5,434.5 259.5,431.5 263.6,431.5 264.1,432.5 263.9,434.5 260.9,440.5 254.6,449.5 244.2,462.5 219.6,489.5 191.5,517.6 180.5,526.8 171.5,533.3 144.5,550.7 121.5,562.8 112.5,566.4 104.5,568.6Z" fill="#acd0e6"/>
<path d="M111.5,563.6 104.5,564.3 100.5,562.8 99.2,559.5 100.9,553.5 105.2,546.5 113.3,536.5 132.0,518.5 156.5,498.9 169.5,490.2 202.5,465.8 221.5,453.0 236.5,443.9 247.5,438.1 254.5,435.4 257.5,435.0 259.0,435.5 259.5,436.5 259.3,438.5 256.3,444.5 242.1,463.5 219.5,488.3 190.9,516.5 172.5,530.9 147.5,547.0 126.5,558.1 111.5,563.6Z" fill="#a0cbe2"/>
<path d="M115.5,559.6 109.5,560.2 106.8,559.5 105.6,558.5 104.7,555.5 106.2,550.5 110.5,543.5 116.9,535.5 125.7,526.5 136.6,516.5 157.5,499.7 169.5,491.5 202.5,466.9 220.5,454.8 234.5,446.3 244.5,441.2 251.5,438.8 253.5,438.7 255.0,439.5 255.0,442.5 252.0,448.5 238.3,466.5 217.5,489.1 190.5,515.5 171.5,530.1 149.5,544.2 130.5,554.2 115.5,559.6Z" fill="#93c4df"/>
<path d="M115.5,556.6 111.5,555.9 109.7,553.5 110.2,549.5 112.6,544.5 117.7,537.5 123.9,530.5 142.5,513.1 157.5,501.1 170.5,492.0 191.5,475.9 217.5,457.8 228.5,450.9 239.5,445.1 246.5,442.4 250.6,442.5 251.3,444.5 249.4,449.5 244.2,457.5 237.1,466.5 217.0,488.5 189.5,515.1 169.5,530.1 147.5,543.8 128.5,553.1 121.5,555.5 115.5,556.6Z" fill="#84bcdc"/>
<path d="M123.5,552.7 117.5,553.2 114.5,551.7 114.0,548.5 115.4,544.5 119.2,538.5 125.9,530.5 143.7,513.5 157.5,502.3 191.5,476.8 216.5,459.4 228.5,452.1 238.5,447.1 244.5,445.3 246.5,445.5 247.5,446.4 247.2,449.5 244.7,454.5 232.5,470.5 214.0,490.5 189.5,514.0 172.5,526.9 153.5,539.1 136.5,548.0 123.5,552.7Z" fill="#76b4d8"/>
<path d="M127.5,549.7 122.5,550.5 118.8,549.5 117.8,546.5 119.0,542.5 122.0,537.5 127.6,530.5 144.5,514.1 158.5,502.6 188.5,480.0 211.5,463.6 223.5,456.1 232.5,451.3 239.5,448.6 243.5,448.8 244.0,451.5 242.3,455.5 238.5,461.5 231.4,470.5 213.0,490.5 188.9,513.5 173.5,525.1 155.5,536.7 139.5,545.2 127.5,549.7Z" fill="#68acd5"/>
<path d="M128.5,547.6 124.5,547.8 121.8,546.5 121.3,543.5 123.4,538.5 132.9,526.5 148.9,511.5 190.5,479.3 212.5,463.9 223.5,457.2 231.5,453.1 237.5,451.2 239.5,451.3 240.5,452.1 240.6,454.5 238.3,459.5 227.7,473.5 211.0,491.5 188.5,512.9 172.5,524.8 154.5,536.2 139.5,543.9 128.5,547.6Z" fill="#5da4d0"/>
<path d="M133.5,544.7 128.5,545.4 125.5,544.7 124.4,542.5 125.5,538.5 128.6,533.5 133.4,527.5 148.9,512.5 188.5,481.7 208.5,467.4 227.5,456.3 233.5,454.2 237.0,454.5 237.5,456.5 235.4,461.5 225.8,474.5 209.1,492.5 187.9,512.5 173.5,523.2 158.5,532.9 144.5,540.4 133.5,544.7Z" fill="#519ccc"/>
<path d="M135.5,542.6 131.5,543.2 128.5,542.5 127.4,540.5 128.5,536.5 131.6,531.5 136.6,525.5 151.3,511.5 189.5,481.7 208.5,468.3 225.5,458.6 231.5,456.7 234.1,457.5 234.3,459.5 232.6,463.5 223.0,476.5 207.1,493.5 187.5,512.0 172.5,523.1 158.5,532.0 145.5,538.8 135.5,542.6Z" fill="#4695c8"/>
<path d="M137.5,540.5 133.5,541.0 131.4,540.5 130.3,538.5 131.4,534.5 138.8,524.5 152.4,511.5 187.5,484.0 205.5,471.2 222.5,461.3 227.5,459.5 230.5,459.6 231.3,461.5 230.3,464.5 227.3,469.5 221.9,476.5 207.2,492.5 187.5,511.2 174.5,520.9 160.5,529.9 147.5,536.8 137.5,540.5Z" fill="#3c8cc3"/>
<path d="M139.5,538.6 135.5,538.9 133.5,537.9 133.1,535.5 134.3,532.5 141.9,522.5 154.6,510.5 187.5,484.8 204.5,472.7 220.5,463.6 225.5,462.0 227.8,462.5 228.1,464.5 226.5,468.5 218.3,479.5 204.3,494.5 186.5,511.2 173.5,520.8 160.5,529.1 148.5,535.3 139.5,538.6Z" fill="#3383be"/>
<path d="M141.5,536.6 137.5,536.7 135.9,535.5 135.9,533.5 137.1,530.5 144.1,521.5 156.8,509.5 188.5,484.9 204.5,473.6 213.0,468.5 219.4,465.5 223.5,464.7 225.0,465.5 225.0,467.5 223.1,471.5 215.5,481.5 202.4,495.5 186.5,510.4 173.5,520.0 161.5,527.6 150.5,533.4 141.5,536.6Z" fill="#2979b9"/>
<path d="M143.5,534.7 140.5,534.8 138.5,533.5 139.4,529.5 145.3,521.5 156.7,510.5 186.5,487.2 201.5,476.5 215.5,468.6 219.5,467.3 221.5,467.6 222.0,469.5 220.8,472.5 214.4,481.5 202.4,494.5 186.5,509.6 174.5,518.5 162.5,526.2 151.5,531.9 143.5,534.7Z" fill="#2070b4"/>
<path d="M146.5,532.6 143.5,532.9 141.5,532.1 141.1,530.5 142.2,527.5 148.3,519.5 158.9,509.5 186.5,488.0 199.8,478.5 212.5,471.3 216.5,470.1 218.6,470.5 218.8,472.5 217.4,475.5 211.6,483.5 200.5,495.5 185.7,509.5 174.5,517.7 163.5,524.8 154.5,529.6 146.5,532.6Z" fill="#1967ad"/>
<path d="M148.5,530.6 145.5,530.8 143.8,529.5 145.0,525.5 150.5,518.5 160.0,509.5 185.6,489.5 198.5,480.3 210.5,473.7 213.5,472.8 215.5,473.4 215.4,475.5 214.5,477.5 208.7,485.5 198.5,496.5 185.5,508.8 175.2,516.5 164.5,523.4 154.6,528.5 148.5,530.6Z" fill="#125ea6"/>
<path d="M150.5,528.6 147.5,528.6 146.5,527.5 147.9,523.5 153.6,516.5 162.2,508.5 185.5,490.4 198.3,481.5 207.5,476.5 210.5,475.7 212.3,476.5 212.0,478.5 210.4,481.5 204.9,488.5 196.5,497.5 184.8,508.5 174.0,516.5 164.5,522.5 156.5,526.6 150.5,528.6Z" fill="#0b559f"/>
<path d="M152.5,526.5 150.5,526.5 149.4,525.5 150.8,521.5 155.8,515.5 163.3,508.5 185.3,491.5 195.3,484.5 204.5,479.4 207.5,478.7 208.5,479.0 208.8,480.5 207.9,482.5 203.7,488.5 195.4,497.5 184.5,507.9 166.5,520.4 158.5,524.6 152.5,526.5Z" fill="#084c94"/>
<path d="M157.5,523.7 153.5,524.2 152.5,523.5 152.8,521.5 157.2,515.5 164.5,508.5 192.5,487.4 201.5,482.5 203.5,482.0 205.0,482.5 204.2,485.5 199.8,491.5 183.8,507.5 169.5,517.7 157.5,523.7Z" fill="#084387"/>
<path d="M158.5,521.7 156.3,521.5 155.8,520.5 156.5,518.5 160.5,513.5 165.8,508.5 189.5,490.7 196.5,486.5 200.5,485.6 200.7,487.5 197.4,492.5 183.5,506.7 169.5,516.6 162.5,520.3 158.5,521.7Z" fill="#083979"/>
<path d="M162.5,518.6 159.9,518.5 160.1,516.5 162.3,513.5 167.4,508.5 187.3,493.5 192.5,490.5 195.5,489.7 196.1,490.5 195.8,491.5 193.9,494.5 182.3,506.5 171.1,514.5 162.5,518.6Z" fill="#08306b"/></g></g>
<g stroke="#555" stroke-width="1.6" stroke-dasharray="2 2" fill="none" clip-path="url(#fclip)">
 <line x1="181.4" y1="375.0" x2="181.4" y2="616.8" stroke-dashoffset="1.1"/>
 <line x1="51.1" y1="505.0" x2="336.0" y2="505.0" stroke-dashoffset="3"/>
 <line x1="51.1" y1="616.7" x2="336.0" y2="372.5"/>
</g>
<g><rect x="324.2" y="381.4" width="1.3" height="1.3" fill="#2a2a2a"/>
<rect x="322.4" y="383.2" width="1.3" height="1.3" fill="#2a2a2a"/>
<rect x="313.7" y="394.2" width="1.3" height="1.3" fill="#2a2a2a"/>
<rect x="301.2" y="395.9" width="1.3" height="1.3" fill="#2a2a2a"/>
<rect x="300.4" y="402.0" width="1.3" height="1.3" fill="#2a2a2a"/>
<rect x="297.4" y="402.0" width="1.3" height="1.3" fill="#2a2a2a"/>
<rect x="293.9" y="406.6" width="1.3" height="1.3" fill="#2a2a2a"/>
<rect x="290.4" y="407.6" width="1.3" height="1.3" fill="#2a2a2a"/>
<rect x="293.9" y="420.0" width="1.3" height="1.3" fill="#2a2a2a"/>
<rect x="273.5" y="407.6" width="1.3" height="1.3" fill="#2a2a2a"/>
<rect x="278.0" y="414.6" width="1.3" height="1.3" fill="#2a2a2a"/>
<rect x="266.2" y="417.6" width="1.3" height="1.3" fill="#2a2a2a"/>
<rect x="247.5" y="416.0" width="1.3" height="1.3" fill="#2a2a2a"/>
<rect x="248.2" y="428.6" width="1.3" height="1.3" fill="#2a2a2a"/>
<rect x="236.5" y="431.9" width="1.3" height="1.3" fill="#2a2a2a"/>
<rect x="230.8" y="431.9" width="1.3" height="1.3" fill="#2a2a2a"/>
<rect x="227.9" y="435.1" width="1.3" height="1.3" fill="#2a2a2a"/>
<rect x="216.8" y="443.2" width="1.3" height="1.3" fill="#2a2a2a"/>
<rect x="218.5" y="444.5" width="1.3" height="1.3" fill="#2a2a2a"/>
<rect x="202.2" y="450.6" width="1.3" height="1.3" fill="#2a2a2a"/>
<rect x="196.8" y="453.8" width="1.3" height="1.3" fill="#2a2a2a"/>
<rect x="191.9" y="457.8" width="1.3" height="1.3" fill="#2a2a2a"/>
<rect x="197.3" y="459.2" width="1.3" height="1.3" fill="#2a2a2a"/>
<rect x="184.4" y="467.1" width="1.3" height="1.3" fill="#2a2a2a"/>
<rect x="246.7" y="473.7" width="1.3" height="1.3" fill="#2a2a2a"/>
<rect x="239.7" y="490.0" width="1.3" height="1.3" fill="#2a2a2a"/>
<rect x="224.9" y="494.7" width="1.3" height="1.3" fill="#2a2a2a"/>
<rect x="177.0" y="470.5" width="1.3" height="1.3" fill="#2a2a2a"/>
<rect x="178.5" y="468.8" width="1.3" height="1.3" fill="#2a2a2a"/>
<rect x="123.5" y="476.0" width="1.3" height="1.3" fill="#2a2a2a"/>
<rect x="154.7" y="481.7" width="1.3" height="1.3" fill="#2a2a2a"/>
<rect x="160.3" y="484.4" width="1.3" height="1.3" fill="#2a2a2a"/>
<rect x="152.2" y="490.2" width="1.3" height="1.3" fill="#2a2a2a"/>
<rect x="123.9" y="491.9" width="1.3" height="1.3" fill="#2a2a2a"/>
<rect x="109.6" y="496.0" width="1.3" height="1.3" fill="#2a2a2a"/>
<rect x="132.5" y="499.2" width="1.3" height="1.3" fill="#2a2a2a"/>
<rect x="125.3" y="502.2" width="1.3" height="1.3" fill="#2a2a2a"/>
<rect x="125.3" y="510.7" width="1.3" height="1.3" fill="#2a2a2a"/>
<rect x="91.6" y="514.1" width="1.3" height="1.3" fill="#2a2a2a"/>
<rect x="99.4" y="513.8" width="1.3" height="1.3" fill="#2a2a2a"/>
<rect x="108.6" y="512.4" width="1.3" height="1.3" fill="#2a2a2a"/>
<rect x="114.1" y="513.8" width="1.3" height="1.3" fill="#2a2a2a"/>
<rect x="96.9" y="518.9" width="1.3" height="1.3" fill="#2a2a2a"/>
<rect x="112.8" y="518.5" width="1.3" height="1.3" fill="#2a2a2a"/>
<rect x="104.1" y="523.0" width="1.3" height="1.3" fill="#2a2a2a"/>
<rect x="105.5" y="525.1" width="1.3" height="1.3" fill="#2a2a2a"/>
<rect x="108.2" y="524.0" width="1.3" height="1.3" fill="#2a2a2a"/>
<rect x="98.3" y="526.5" width="1.3" height="1.3" fill="#2a2a2a"/>
<rect x="91.6" y="534.6" width="1.3" height="1.3" fill="#2a2a2a"/>
<rect x="87.1" y="537.6" width="1.3" height="1.3" fill="#2a2a2a"/>
<rect x="82.6" y="541.4" width="1.3" height="1.3" fill="#2a2a2a"/>
<rect x="77.9" y="539.0" width="1.3" height="1.3" fill="#2a2a2a"/>
<rect x="76.9" y="548.6" width="1.3" height="1.3" fill="#2a2a2a"/>
<rect x="78.3" y="550.6" width="1.3" height="1.3" fill="#2a2a2a"/>
<rect x="61.6" y="551.1" width="1.3" height="1.3" fill="#2a2a2a"/>
<rect x="62.6" y="554.1" width="1.3" height="1.3" fill="#2a2a2a"/>
<rect x="73.8" y="556.6" width="1.3" height="1.3" fill="#2a2a2a"/>
<rect x="74.8" y="567.0" width="1.3" height="1.3" fill="#2a2a2a"/>
<rect x="78.9" y="574.5" width="1.3" height="1.3" fill="#2a2a2a"/>
<rect x="61.6" y="575.5" width="1.3" height="1.3" fill="#2a2a2a"/>
<rect x="68.8" y="577.8" width="1.3" height="1.3" fill="#2a2a2a"/>
<rect x="62.6" y="580.1" width="1.3" height="1.3" fill="#2a2a2a"/>
<rect x="74.8" y="581.2" width="1.3" height="1.3" fill="#2a2a2a"/>
<rect x="60.6" y="584.9" width="1.3" height="1.3" fill="#2a2a2a"/>
<rect x="64.6" y="588.0" width="1.3" height="1.3" fill="#2a2a2a"/>
<rect x="73.8" y="589.0" width="1.3" height="1.3" fill="#2a2a2a"/>
<rect x="76.5" y="586.4" width="1.3" height="1.3" fill="#2a2a2a"/>
<rect x="84.0" y="589.0" width="1.3" height="1.3" fill="#2a2a2a"/>
<rect x="72.8" y="593.1" width="1.3" height="1.3" fill="#2a2a2a"/>
<rect x="87.1" y="601.6" width="1.3" height="1.3" fill="#2a2a2a"/>
<rect x="107.5" y="590.4" width="1.3" height="1.3" fill="#2a2a2a"/>
<rect x="106.5" y="596.1" width="1.3" height="1.3" fill="#2a2a2a"/>
<rect x="111.0" y="593.1" width="1.3" height="1.3" fill="#2a2a2a"/>
<rect x="125.3" y="586.4" width="1.3" height="1.3" fill="#2a2a2a"/>
<rect x="123.9" y="597.6" width="1.3" height="1.3" fill="#2a2a2a"/>
<rect x="123.9" y="606.8" width="1.3" height="1.3" fill="#2a2a2a"/>
<rect x="129.0" y="575.6" width="1.3" height="1.3" fill="#2a2a2a"/>
<rect x="137.2" y="577.8" width="1.3" height="1.3" fill="#2a2a2a"/>
<rect x="143.3" y="574.1" width="1.3" height="1.3" fill="#2a2a2a"/>
<rect x="147.0" y="569.4" width="1.3" height="1.3" fill="#2a2a2a"/>
<rect x="157.7" y="560.8" width="1.3" height="1.3" fill="#2a2a2a"/>
<rect x="170.9" y="558.8" width="1.3" height="1.3" fill="#2a2a2a"/>
<rect x="177.7" y="542.8" width="1.3" height="1.3" fill="#2a2a2a"/>
<rect x="186.7" y="543.4" width="1.3" height="1.3" fill="#2a2a2a"/>
<rect x="189.3" y="539.8" width="1.3" height="1.3" fill="#2a2a2a"/>
<rect x="224.9" y="503.7" width="1.3" height="1.3" fill="#2a2a2a"/>
<rect x="215.5" y="509.6" width="1.3" height="1.3" fill="#2a2a2a"/>
<rect x="219.5" y="511.2" width="1.3" height="1.3" fill="#2a2a2a"/>
<rect x="210.4" y="515.0" width="1.3" height="1.3" fill="#2a2a2a"/>
<rect x="212.5" y="517.8" width="1.3" height="1.3" fill="#2a2a2a"/>
<rect x="200.3" y="522.4" width="1.3" height="1.3" fill="#2a2a2a"/>
<rect x="191.8" y="531.8" width="1.3" height="1.3" fill="#2a2a2a"/>
<rect x="196.8" y="539.5" width="1.3" height="1.3" fill="#2a2a2a"/>
<rect x="205.8" y="537.6" width="1.3" height="1.3" fill="#2a2a2a"/></g>
<rect x="51.1" y="375.0" width="284.9" height="241.8" fill="none" stroke="#747474" stroke-width="1.7"/>
<g stroke="#5a5a5a" stroke-width="1.25">
<line x1="115.8" y1="616.8" x2="115.8" y2="624.4"/><line x1="181.4" y1="616.8" x2="181.4" y2="624.4"/><line x1="247.0" y1="616.8" x2="247.0" y2="624.4"/><line x1="312.6" y1="616.8" x2="312.6" y2="624.4"/><line x1="43.4" y1="561.2" x2="51.1" y2="561.2"/><line x1="43.4" y1="505.0" x2="51.1" y2="505.0"/><line x1="43.4" y1="448.8" x2="51.1" y2="448.8"/><line x1="43.4" y1="392.5" x2="51.1" y2="392.5"/>
</g>
<g font-family="Liberation Sans, sans-serif" fill="#111" font-size="12" text-anchor="middle">
<text x="115.8" y="642.8">-2</text><text x="181.4" y="642.8">0</text><text x="247.0" y="642.8">2</text><text x="312.6" y="642.8">4</text><text transform="translate(34,561.2) rotate(-90)" x="0" y="0">-2</text><text transform="translate(34,505.0) rotate(-90)" x="0" y="0">0</text><text transform="translate(34,448.8) rotate(-90)" x="0" y="0">2</text><text transform="translate(34,392.5) rotate(-90)" x="0" y="0">4</text>
 <text x="182.6" y="660.9" font-size="12.6">CT</text>
 <text transform="translate(11.8,499) rotate(-90)" font-size="12.6">IN</text>
</g>
<g fill="none" stroke="#333" stroke-width="0.85">
 <ellipse cx="455.6" cy="450.6" rx="66.6" ry="59.4"/>
 <ellipse cx="455.5" cy="510.3" rx="66.5" ry="59.4"/>
 <ellipse cx="610" cy="453.1" rx="66.6" ry="59.7"/>
 <ellipse cx="610" cy="512.2" rx="66.6" ry="59.3"/>
</g>
<g font-family="Liberation Sans, sans-serif" fill="#111" font-size="12" text-anchor="middle">
 <text x="453.1" y="384.2" transform="translate(453.1,0) scale(1.06,1) translate(-453.1,0)">Total</text>
 <text x="456" y="426" transform="translate(456,0) scale(1.04,1) translate(-456,0)">63</text>
 <text x="458" y="483.1" transform="translate(458,0) scale(1.04,1) translate(-458,0)">196</text>
 <text x="454.3" y="542.6">241</text>
 <text x="456.2" y="583.9" transform="translate(456.2,0) scale(1.07,1) translate(-456.2,0)">Polysomal</text>
 <text x="610.5" y="387.5" transform="translate(610.5,0) scale(1.06,1) translate(-610.5,0)">Total</text>
 <text x="609.6" y="428.9" transform="translate(609.6,0) scale(1.02,1) translate(-609.6,0)">81</text>
 <text x="610" y="486" transform="translate(610,0) scale(1.05,1) translate(-610,0)">93</text>
 <text x="610" y="545.2" transform="translate(610,0) scale(1.05,1) translate(-610,0)">56</text>
 <text x="612.5" y="586" transform="translate(612.5,0) scale(1.07,1) translate(-612.5,0)">Polysomal</text>
 <text x="455.6" y="629.3" font-size="17.5" stroke="#111" stroke-width="0.35">Up</text>
 <text x="609.4" y="629.5" font-size="17.5" stroke="#111" stroke-width="0.35">Down</text>
</g>
</svg>
</body></html>
